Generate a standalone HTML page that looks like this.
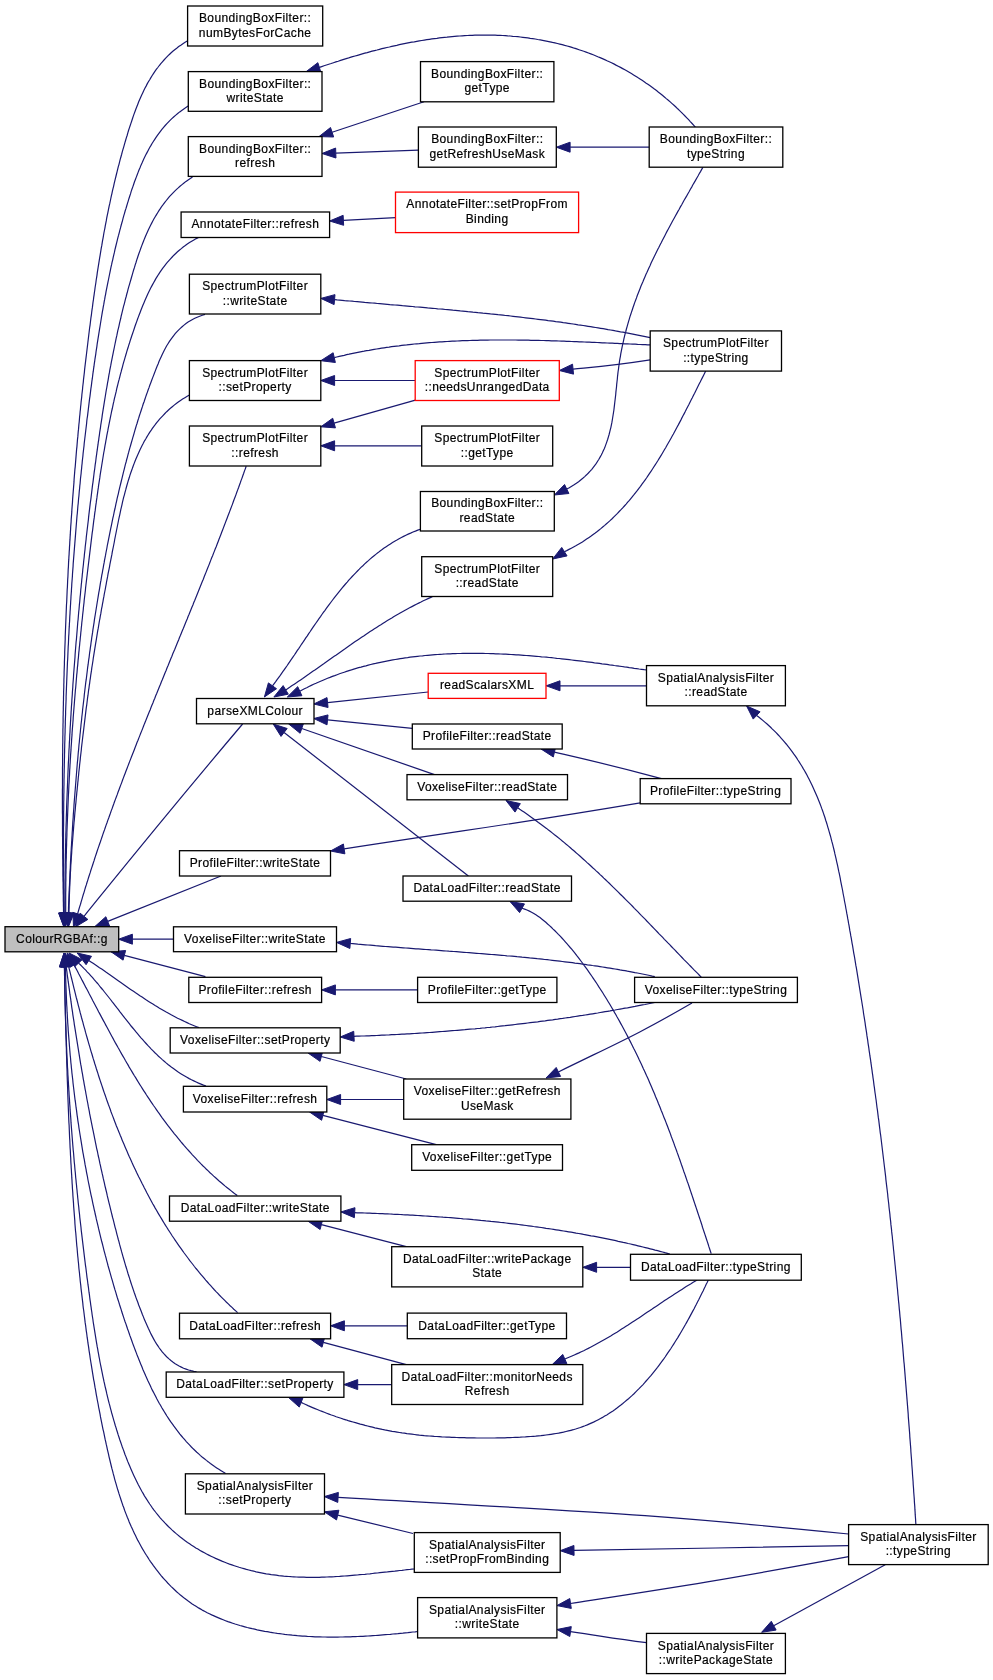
<!DOCTYPE html>
<html><head><meta charset="utf-8"><style>
html,body{margin:0;padding:0;background:#fff;}
svg{display:block;will-change:transform;}
text{font-family:"Liberation Sans",sans-serif;font-size:12px;letter-spacing:0.4px;text-anchor:middle;fill:#000;stroke:#000;stroke-width:0.2px;}
</style></head><body>
<svg width="993" height="1680" viewBox="0 0 993 1680">
<rect width="993" height="1680" fill="#fff"/>
<g fill="none" stroke="#191970" stroke-width="1.2">
<path d="M187.3,41.0 L185.1,42.3 L182.9,43.7 L180.8,45.2 L178.7,46.6 L176.7,48.2 L174.7,49.7 L172.8,51.3 L170.9,53.0 L169.1,54.7 L167.4,56.4 L165.7,58.2 L164.0,60.0 L162.4,61.8 L160.8,63.7 L159.3,65.5 L157.8,67.5 L156.3,69.4 L154.9,71.4 L153.6,73.4 L152.2,75.5 L150.9,77.6 L149.7,79.7 L148.4,81.8 L147.2,83.9 L146.1,86.1 L144.9,88.3 L143.8,90.5 L142.8,92.7 L141.7,95.0 L140.7,97.3 L139.7,99.5 L138.7,101.8 L137.8,104.2 L136.9,106.5 L136.0,108.8 L135.1,111.2 L134.2,113.6 L133.4,115.9 L132.6,118.3 L131.8,120.7 L131.0,123.1 L130.2,125.5 L129.4,127.9 L128.6,130.3 L127.9,132.7 L127.2,135.2 L126.4,137.6 L125.7,140.0 L125.0,142.4 L124.3,144.8 L123.6,147.3 L122.9,149.7 L122.2,152.1 L121.6,154.5 L120.9,157.0 L120.2,159.4 L119.6,161.8 L119.0,164.3 L118.3,166.7 L117.7,169.2 L117.1,171.6 L116.5,174.0 L115.9,176.5 L115.3,178.9 L114.7,181.4 L114.1,183.8 L113.6,186.3 L113.0,188.7 L112.4,191.2 L111.9,193.6 L111.3,196.1 L110.8,198.5 L110.3,201.0 L109.8,203.4 L109.2,205.9 L108.7,208.4 L108.2,210.8 L107.7,213.3 L107.2,215.7 L106.7,218.2 L106.3,220.7 L105.8,223.1 L105.3,225.6 L104.9,228.1 L104.4,230.5 L103.9,233.0 L103.5,235.5 L103.1,237.9 L102.6,240.4 L102.2,242.9 L101.8,245.4 L101.3,247.8 L100.9,250.3 L100.5,252.8 L100.1,255.3 L99.7,257.7 L99.3,260.2 L98.9,262.7 L98.5,265.2 L98.1,267.6 L97.7,270.1 L97.3,272.6 L97.0,275.1 L96.6,277.6 L96.2,280.0 L95.9,282.5 L95.5,285.0 L95.1,287.5 L94.8,290.0 L94.4,292.5 L94.1,294.9 L93.7,297.4 L93.4,299.9 L93.0,302.4 L92.7,304.9 L92.4,307.4 L92.0,309.9 L91.7,312.3 L91.4,314.8 L91.0,317.3 L90.7,319.8 L90.4,322.3 L90.1,324.8 L89.7,327.3 L89.4,329.8 L89.1,332.2 L88.8,334.7 L88.5,337.2 L88.2,339.7 L87.9,342.2 L87.6,344.7 L87.3,347.2 L87.0,349.7 L86.7,352.2 L86.4,354.7 L86.1,357.1 L85.8,359.6 L85.5,362.1 L85.2,364.6 L84.9,367.1 L84.6,369.6 L84.4,372.1 L84.1,374.6 L83.8,377.1 L83.5,379.6 L83.3,382.1 L83.0,384.5 L82.7,387.0 L82.5,389.5 L82.2,392.0 L81.9,394.5 L81.7,397.0 L81.4,399.5 L81.1,402.0 L80.9,404.5 L80.6,407.0 L80.4,409.5 L80.1,412.0 L79.9,414.5 L79.6,417.0 L79.4,419.5 L79.2,422.0 L78.9,424.5 L78.7,426.9 L78.5,429.4 L78.2,431.9 L78.0,434.4 L77.8,436.9 L77.5,439.4 L77.3,441.9 L77.1,444.4 L76.9,446.9 L76.6,449.4 L76.4,451.9 L76.2,454.4 L76.0,456.9 L75.8,459.4 L75.6,461.9 L75.4,464.4 L75.2,466.9 L74.9,469.4 L74.7,471.9 L74.5,474.4 L74.3,476.9 L74.1,479.4 L74.0,481.9 L73.8,484.4 L73.6,486.9 L73.4,489.4 L73.2,491.9 L73.0,494.4 L72.8,496.9 L72.6,499.4 L72.5,501.9 L72.3,504.4 L72.1,506.9 L71.9,509.4 L71.8,511.9 L71.6,514.4 L71.4,516.9 L71.2,519.4 L71.1,521.9 L70.9,524.4 L70.7,526.9 L70.6,529.4 L70.4,531.9 L70.3,534.4 L70.1,536.9 L70.0,539.4 L69.8,541.9 L69.7,544.4 L69.5,546.9 L69.4,549.4 L69.2,551.9 L69.1,554.4 L68.9,556.9 L68.8,559.4 L68.6,561.9 L68.5,564.4 L68.4,566.9 L68.2,569.4 L68.1,571.9 L68.0,574.4 L67.9,576.9 L67.7,579.5 L67.6,582.0 L67.5,584.5 L67.4,587.0 L67.2,589.5 L67.1,592.0 L67.0,594.5 L66.9,597.0 L66.8,599.5 L66.7,602.0 L66.5,604.5 L66.4,607.0 L66.3,609.5 L66.2,612.0 L66.1,614.5 L66.0,617.0 L65.9,619.5 L65.8,622.0 L65.7,624.5 L65.6,627.0 L65.5,629.5 L65.4,632.1 L65.3,634.6 L65.2,637.1 L65.2,639.6 L65.1,642.1 L65.0,644.6 L64.9,647.1 L64.8,649.6 L64.7,652.1 L64.7,654.6 L64.6,657.1 L64.5,659.6 L64.4,662.1 L64.4,664.6 L64.3,667.1 L64.2,669.6 L64.1,672.2 L64.1,674.7 L64.0,677.2 L63.9,679.7 L63.9,682.2 L63.8,684.7 L63.8,687.2 L63.7,689.7 L63.6,692.2 L63.6,694.7 L63.5,697.2 L63.5,699.7 L63.4,702.2 L63.4,704.7 L63.3,707.3 L63.3,709.8 L63.2,712.3 L63.2,714.8 L63.1,717.3 L63.1,719.8 L63.1,722.3 L63.0,724.8 L63.0,727.3 L62.9,729.8 L62.9,732.3 L62.9,734.8 L62.8,737.3 L62.8,739.9 L62.8,742.4 L62.7,744.9 L62.7,747.4 L62.7,749.9 L62.7,752.4 L62.6,754.9 L62.6,757.4 L62.6,759.9 L62.6,762.4 L62.6,764.9 L62.5,767.4 L62.5,769.9 L62.5,772.5 L62.5,775.0 L62.5,777.5 L62.5,780.0 L62.5,782.5 L62.5,785.0 L62.5,787.5 L62.4,790.0 L62.4,792.5 L62.4,795.0 L62.4,797.5 L62.4,800.0 L62.4,802.6 L62.4,805.1 L62.4,807.6 L62.4,810.1 L62.4,812.6 L62.5,815.1 L62.5,817.6 L62.5,820.1 L62.5,822.6 L62.5,825.1 L62.5,827.6 L62.5,830.1 L62.5,832.7 L62.5,835.2 L62.6,837.7 L62.6,840.2 L62.6,842.7 L62.6,845.2 L62.6,847.7 L62.7,850.2 L62.7,852.7 L62.7,855.2 L62.7,857.7 L62.8,860.2 L62.8,862.8 L62.8,865.3 L62.9,867.8 L62.9,870.3 L62.9,872.8 L62.9,875.3 L63.0,877.8 L63.0,880.3 L63.1,882.8 L63.1,885.3 L63.1,887.8 L63.2,890.3 L63.2,892.8 L63.3,895.4 L63.3,897.9 L63.3,900.4 L63.4,902.9 L63.4,905.4 L63.5,907.9 L63.5,910.4 L63.6,912.9"/>
<path d="M188.1,106.1 L185.9,107.5 L183.8,108.9 L181.7,110.4 L179.7,111.9 L177.7,113.5 L175.8,115.1 L173.9,116.7 L172.1,118.4 L170.3,120.1 L168.6,121.9 L166.9,123.7 L165.2,125.5 L163.6,127.3 L162.1,129.2 L160.6,131.1 L159.1,133.1 L157.6,135.1 L156.2,137.1 L154.9,139.1 L153.5,141.2 L152.2,143.3 L151.0,145.4 L149.7,147.5 L148.5,149.7 L147.4,151.9 L146.2,154.1 L145.1,156.3 L144.0,158.6 L143.0,160.8 L142.0,163.1 L140.9,165.4 L140.0,167.7 L139.0,170.0 L138.1,172.4 L137.2,174.7 L136.3,177.1 L135.4,179.5 L134.5,181.8 L133.7,184.2 L132.9,186.6 L132.0,189.0 L131.2,191.4 L130.5,193.9 L129.7,196.3 L128.9,198.7 L128.2,201.1 L127.4,203.6 L126.7,206.0 L126.0,208.4 L125.2,210.8 L124.5,213.3 L123.8,215.7 L123.1,218.2 L122.5,220.6 L121.8,223.0 L121.1,225.5 L120.5,227.9 L119.8,230.3 L119.2,232.8 L118.6,235.2 L117.9,237.7 L117.3,240.1 L116.7,242.6 L116.1,245.0 L115.5,247.5 L114.9,249.9 L114.4,252.4 L113.8,254.8 L113.2,257.3 L112.7,259.8 L112.1,262.2 L111.6,264.7 L111.0,267.1 L110.5,269.6 L110.0,272.1 L109.5,274.5 L109.0,277.0 L108.5,279.5 L108.0,281.9 L107.5,284.4 L107.0,286.9 L106.5,289.3 L106.0,291.8 L105.6,294.3 L105.1,296.7 L104.7,299.2 L104.2,301.7 L103.8,304.2 L103.3,306.6 L102.9,309.1 L102.4,311.6 L102.0,314.1 L101.6,316.5 L101.2,319.0 L100.8,321.5 L100.4,324.0 L100.0,326.5 L99.6,328.9 L99.2,331.4 L98.8,333.9 L98.4,336.4 L98.0,338.9 L97.6,341.4 L97.2,343.8 L96.9,346.3 L96.5,348.8 L96.1,351.3 L95.8,353.8 L95.4,356.3 L95.0,358.8 L94.7,361.2 L94.3,363.7 L94.0,366.2 L93.6,368.7 L93.3,371.2 L92.9,373.7 L92.6,376.2 L92.3,378.7 L91.9,381.2 L91.6,383.6 L91.3,386.1 L90.9,388.6 L90.6,391.1 L90.3,393.6 L90.0,396.1 L89.6,398.6 L89.3,401.1 L89.0,403.6 L88.7,406.1 L88.4,408.6 L88.1,411.1 L87.8,413.6 L87.5,416.1 L87.1,418.5 L86.8,421.0 L86.6,423.5 L86.3,426.0 L86.0,428.5 L85.7,431.0 L85.4,433.5 L85.1,436.0 L84.8,438.5 L84.5,441.0 L84.2,443.5 L84.0,446.0 L83.7,448.5 L83.4,451.0 L83.1,453.5 L82.9,456.0 L82.6,458.5 L82.3,461.0 L82.1,463.5 L81.8,466.0 L81.6,468.5 L81.3,471.0 L81.1,473.5 L80.8,476.0 L80.5,478.5 L80.3,481.0 L80.1,483.5 L79.8,486.0 L79.6,488.5 L79.3,491.0 L79.1,493.5 L78.9,496.0 L78.6,498.5 L78.4,501.0 L78.2,503.5 L77.9,506.0 L77.7,508.5 L77.5,511.0 L77.3,513.5 L77.0,516.0 L76.8,518.5 L76.6,521.0 L76.4,523.5 L76.2,526.0 L76.0,528.5 L75.8,531.0 L75.6,533.6 L75.4,536.1 L75.2,538.6 L75.0,541.1 L74.8,543.6 L74.6,546.1 L74.4,548.6 L74.2,551.1 L74.0,553.6 L73.8,556.1 L73.6,558.6 L73.4,561.1 L73.2,563.6 L73.1,566.1 L72.9,568.6 L72.7,571.1 L72.5,573.7 L72.4,576.2 L72.2,578.7 L72.0,581.2 L71.8,583.7 L71.7,586.2 L71.5,588.7 L71.4,591.2 L71.2,593.7 L71.0,596.2 L70.9,598.7 L70.7,601.3 L70.6,603.8 L70.4,606.3 L70.3,608.8 L70.1,611.3 L70.0,613.8 L69.8,616.3 L69.7,618.8 L69.6,621.3 L69.4,623.8 L69.3,626.4 L69.1,628.9 L69.0,631.4 L68.9,633.9 L68.7,636.4 L68.6,638.9 L68.5,641.4 L68.4,643.9 L68.2,646.4 L68.1,649.0 L68.0,651.5 L67.9,654.0 L67.8,656.5 L67.7,659.0 L67.5,661.5 L67.4,664.0 L67.3,666.5 L67.2,669.0 L67.1,671.6 L67.0,674.1 L66.9,676.6 L66.8,679.1 L66.7,681.6 L66.6,684.1 L66.5,686.6 L66.4,689.2 L66.3,691.7 L66.2,694.2 L66.1,696.7 L66.1,699.2 L66.0,701.7 L65.9,704.2 L65.8,706.7 L65.7,709.3 L65.6,711.8 L65.6,714.3 L65.5,716.8 L65.4,719.3 L65.3,721.8 L65.3,724.3 L65.2,726.9 L65.1,729.4 L65.1,731.9 L65.0,734.4 L64.9,736.9 L64.9,739.4 L64.8,741.9 L64.7,744.5 L64.7,747.0 L64.6,749.5 L64.6,752.0 L64.5,754.5 L64.5,757.0 L64.4,759.5 L64.4,762.1 L64.3,764.6 L64.3,767.1 L64.2,769.6 L64.2,772.1 L64.1,774.6 L64.1,777.1 L64.0,779.7 L64.0,782.2 L64.0,784.7 L63.9,787.2 L63.9,789.7 L63.9,792.2 L63.8,794.7 L63.8,797.3 L63.8,799.8 L63.7,802.3 L63.7,804.8 L63.7,807.3 L63.7,809.8 L63.6,812.3 L63.6,814.9 L63.6,817.4 L63.6,819.9 L63.6,822.4 L63.6,824.9 L63.5,827.4 L63.5,829.9 L63.5,832.5 L63.5,835.0 L63.5,837.5 L63.5,840.0 L63.5,842.5 L63.5,845.0 L63.5,847.5 L63.5,850.1 L63.5,852.6 L63.5,855.1 L63.5,857.6 L63.5,860.1 L63.5,862.6 L63.5,865.1 L63.5,867.7 L63.5,870.2 L63.5,872.7 L63.5,875.2 L63.5,877.7 L63.5,880.2 L63.6,882.7 L63.6,885.3 L63.6,887.8 L63.6,890.3 L63.6,892.8 L63.6,895.3 L63.7,897.8 L63.7,900.3 L63.7,902.8 L63.7,905.4 L63.7,907.9 L63.8,910.4 L63.8,912.9"/>
<path d="M192.5,177.0 L190.3,178.4 L188.1,179.9 L186.0,181.4 L184.0,183.0 L182.0,184.6 L180.0,186.2 L178.2,187.9 L176.3,189.6 L174.5,191.3 L172.8,193.1 L171.1,194.9 L169.4,196.7 L167.8,198.6 L166.3,200.5 L164.8,202.4 L163.3,204.4 L161.8,206.3 L160.5,208.4 L159.1,210.4 L157.8,212.5 L156.5,214.6 L155.2,216.7 L154.0,218.8 L152.8,221.0 L151.7,223.1 L150.6,225.3 L149.5,227.6 L148.4,229.8 L147.4,232.0 L146.4,234.3 L145.4,236.6 L144.4,238.9 L143.5,241.2 L142.6,243.5 L141.7,245.9 L140.8,248.2 L140.0,250.6 L139.1,253.0 L138.3,255.3 L137.5,257.7 L136.7,260.1 L136.0,262.5 L135.2,264.9 L134.5,267.4 L133.7,269.8 L133.0,272.2 L132.3,274.6 L131.6,277.0 L130.9,279.5 L130.2,281.9 L129.5,284.3 L128.8,286.7 L128.1,289.2 L127.5,291.6 L126.8,294.0 L126.2,296.5 L125.5,298.9 L124.9,301.4 L124.3,303.8 L123.6,306.2 L123.0,308.7 L122.4,311.1 L121.8,313.6 L121.2,316.0 L120.7,318.5 L120.1,320.9 L119.5,323.4 L119.0,325.8 L118.4,328.3 L117.8,330.7 L117.3,333.2 L116.8,335.7 L116.2,338.1 L115.7,340.6 L115.2,343.0 L114.7,345.5 L114.2,348.0 L113.7,350.4 L113.2,352.9 L112.7,355.4 L112.2,357.8 L111.7,360.3 L111.2,362.8 L110.8,365.2 L110.3,367.7 L109.8,370.2 L109.4,372.7 L108.9,375.1 L108.5,377.6 L108.1,380.1 L107.6,382.6 L107.2,385.1 L106.8,387.5 L106.3,390.0 L105.9,392.5 L105.5,395.0 L105.1,397.5 L104.7,399.9 L104.3,402.4 L103.9,404.9 L103.5,407.4 L103.1,409.9 L102.7,412.4 L102.3,414.9 L102.0,417.3 L101.6,419.8 L101.2,422.3 L100.8,424.8 L100.5,427.3 L100.1,429.8 L99.7,432.3 L99.4,434.8 L99.0,437.3 L98.7,439.8 L98.3,442.2 L98.0,444.7 L97.6,447.2 L97.3,449.7 L96.9,452.2 L96.6,454.7 L96.2,457.2 L95.9,459.7 L95.6,462.2 L95.2,464.7 L94.9,467.2 L94.6,469.7 L94.2,472.2 L93.9,474.7 L93.6,477.1 L93.3,479.6 L93.0,482.1 L92.6,484.6 L92.3,487.1 L92.0,489.6 L91.7,492.1 L91.4,494.6 L91.1,497.1 L90.8,499.6 L90.4,502.1 L90.1,504.6 L89.8,507.1 L89.5,509.6 L89.2,512.1 L88.9,514.6 L88.6,517.1 L88.4,519.6 L88.1,522.0 L87.8,524.5 L87.5,527.0 L87.2,529.5 L86.9,532.0 L86.6,534.5 L86.3,537.0 L86.1,539.5 L85.8,542.0 L85.5,544.5 L85.2,547.0 L85.0,549.5 L84.7,552.0 L84.4,554.5 L84.2,557.0 L83.9,559.5 L83.6,562.0 L83.4,564.5 L83.1,567.0 L82.8,569.5 L82.6,572.0 L82.3,574.5 L82.1,577.0 L81.8,579.5 L81.6,582.0 L81.3,584.5 L81.1,587.0 L80.8,589.5 L80.6,592.0 L80.4,594.5 L80.1,597.0 L79.9,599.5 L79.7,602.0 L79.4,604.5 L79.2,607.0 L79.0,609.5 L78.7,612.0 L78.5,614.5 L78.3,617.0 L78.1,619.5 L77.8,622.0 L77.6,624.5 L77.4,627.0 L77.2,629.5 L77.0,632.0 L76.8,634.5 L76.6,637.0 L76.4,639.5 L76.1,642.0 L75.9,644.5 L75.7,647.0 L75.5,649.5 L75.3,652.0 L75.1,654.5 L75.0,657.0 L74.8,659.5 L74.6,662.0 L74.4,664.5 L74.2,667.0 L74.0,669.5 L73.8,672.0 L73.6,674.5 L73.5,677.0 L73.3,679.5 L73.1,682.0 L72.9,684.5 L72.8,687.0 L72.6,689.5 L72.4,692.0 L72.3,694.5 L72.1,697.0 L71.9,699.5 L71.8,702.0 L71.6,704.5 L71.4,707.0 L71.3,709.5 L71.1,712.0 L71.0,714.5 L70.8,717.0 L70.7,719.6 L70.5,722.1 L70.4,724.6 L70.2,727.1 L70.1,729.6 L70.0,732.1 L69.8,734.6 L69.7,737.1 L69.6,739.6 L69.4,742.1 L69.3,744.6 L69.2,747.1 L69.0,749.6 L68.9,752.1 L68.8,754.6 L68.7,757.1 L68.6,759.7 L68.4,762.2 L68.3,764.7 L68.2,767.2 L68.1,769.7 L68.0,772.2 L67.9,774.7 L67.8,777.2 L67.7,779.7 L67.6,782.2 L67.5,784.7 L67.4,787.2 L67.3,789.8 L67.2,792.3 L67.1,794.8 L67.0,797.3 L66.9,799.8 L66.8,802.3 L66.7,804.8 L66.6,807.3 L66.6,809.8 L66.5,812.3 L66.4,814.9 L66.3,817.4 L66.3,819.9 L66.2,822.4 L66.1,824.9 L66.0,827.4 L66.0,829.9 L65.9,832.4 L65.8,834.9 L65.8,837.5 L65.7,840.0 L65.7,842.5 L65.6,845.0 L65.6,847.5 L65.5,850.0 L65.5,852.5 L65.4,855.1 L65.4,857.6 L65.3,860.1 L65.3,862.6 L65.2,865.1 L65.2,867.6 L65.2,870.1 L65.1,872.6 L65.1,875.2 L65.1,877.7 L65.0,880.2 L65.0,882.7 L65.0,885.2 L65.0,887.7 L64.9,890.3 L64.9,892.8 L64.9,895.3 L64.9,897.8 L64.9,900.3 L64.8,902.8 L64.8,905.4 L64.8,907.9 L64.8,910.4 L64.8,912.9"/>
<path d="M198.6,237.4 L196.2,238.6 L193.9,239.9 L191.7,241.2 L189.5,242.6 L187.3,244.0 L185.3,245.5 L183.2,247.0 L181.3,248.6 L179.3,250.2 L177.5,251.8 L175.7,253.5 L173.9,255.2 L172.2,257.0 L170.5,258.8 L168.9,260.6 L167.3,262.4 L165.7,264.3 L164.2,266.3 L162.8,268.2 L161.4,270.2 L160.0,272.2 L158.6,274.3 L157.3,276.4 L156.0,278.4 L154.8,280.6 L153.6,282.7 L152.4,284.9 L151.2,287.1 L150.1,289.3 L149.0,291.5 L147.9,293.7 L146.9,296.0 L145.9,298.3 L144.9,300.6 L143.9,302.9 L142.9,305.2 L142.0,307.5 L141.1,309.8 L140.2,312.2 L139.3,314.5 L138.4,316.9 L137.5,319.2 L136.7,321.6 L135.8,324.0 L135.0,326.3 L134.2,328.7 L133.4,331.1 L132.6,333.5 L131.8,335.8 L131.0,338.2 L130.2,340.6 L129.5,343.0 L128.7,345.4 L128.0,347.8 L127.2,350.2 L126.5,352.6 L125.8,355.0 L125.1,357.4 L124.4,359.8 L123.7,362.2 L123.0,364.6 L122.4,367.1 L121.7,369.5 L121.1,371.9 L120.4,374.3 L119.8,376.8 L119.2,379.2 L118.5,381.6 L117.9,384.1 L117.3,386.5 L116.7,388.9 L116.2,391.4 L115.6,393.8 L115.0,396.3 L114.4,398.7 L113.9,401.2 L113.3,403.6 L112.8,406.1 L112.3,408.5 L111.7,411.0 L111.2,413.5 L110.7,415.9 L110.2,418.4 L109.7,420.8 L109.2,423.3 L108.7,425.8 L108.2,428.3 L107.8,430.7 L107.3,433.2 L106.8,435.7 L106.4,438.1 L105.9,440.6 L105.5,443.1 L105.0,445.6 L104.6,448.1 L104.2,450.5 L103.7,453.0 L103.3,455.5 L102.9,458.0 L102.5,460.5 L102.1,463.0 L101.7,465.5 L101.3,468.0 L100.9,470.4 L100.5,472.9 L100.1,475.4 L99.8,477.9 L99.4,480.4 L99.0,482.9 L98.6,485.4 L98.3,487.9 L97.9,490.4 L97.6,492.9 L97.2,495.4 L96.9,497.9 L96.5,500.4 L96.2,502.9 L95.8,505.4 L95.5,507.9 L95.2,510.4 L94.8,512.9 L94.5,515.4 L94.2,517.9 L93.8,520.4 L93.5,522.9 L93.2,525.4 L92.9,527.9 L92.6,530.4 L92.2,532.9 L91.9,535.4 L91.6,537.9 L91.3,540.4 L91.0,542.9 L90.7,545.4 L90.4,547.9 L90.1,550.4 L89.8,552.9 L89.5,555.4 L89.2,557.9 L88.9,560.4 L88.6,562.8 L88.3,565.3 L88.0,567.8 L87.7,570.3 L87.4,572.8 L87.1,575.3 L86.8,577.8 L86.5,580.3 L86.2,582.8 L85.9,585.3 L85.6,587.8 L85.4,590.3 L85.1,592.8 L84.8,595.3 L84.5,597.8 L84.2,600.3 L84.0,602.8 L83.7,605.3 L83.4,607.8 L83.2,610.3 L82.9,612.7 L82.6,615.2 L82.4,617.7 L82.1,620.2 L81.8,622.7 L81.6,625.2 L81.3,627.7 L81.1,630.2 L80.8,632.7 L80.6,635.2 L80.3,637.7 L80.1,640.2 L79.8,642.7 L79.6,645.2 L79.3,647.6 L79.1,650.1 L78.8,652.6 L78.6,655.1 L78.4,657.6 L78.1,660.1 L77.9,662.6 L77.7,665.1 L77.4,667.6 L77.2,670.1 L77.0,672.6 L76.7,675.1 L76.5,677.6 L76.3,680.0 L76.1,682.5 L75.9,685.0 L75.7,687.5 L75.4,690.0 L75.2,692.5 L75.0,695.0 L74.8,697.5 L74.6,700.0 L74.4,702.5 L74.2,705.0 L74.0,707.5 L73.8,710.0 L73.6,712.5 L73.4,715.0 L73.2,717.4 L73.1,719.9 L72.9,722.4 L72.7,724.9 L72.5,727.4 L72.3,729.9 L72.1,732.4 L72.0,734.9 L71.8,737.4 L71.6,739.9 L71.5,742.4 L71.3,744.9 L71.1,747.4 L71.0,749.9 L70.8,752.4 L70.6,754.9 L70.5,757.4 L70.3,759.9 L70.2,762.4 L70.0,764.9 L69.9,767.4 L69.7,769.9 L69.6,772.4 L69.5,774.9 L69.3,777.4 L69.2,779.9 L69.1,782.4 L68.9,784.9 L68.8,787.4 L68.7,789.9 L68.6,792.4 L68.4,794.9 L68.3,797.4 L68.2,799.9 L68.1,802.4 L68.0,804.9 L67.9,807.4 L67.8,809.9 L67.7,812.4 L67.6,814.9 L67.5,817.4 L67.4,819.9 L67.3,822.4 L67.2,824.9 L67.1,827.4 L67.0,829.9 L66.9,832.4 L66.9,834.9 L66.8,837.4 L66.7,840.0 L66.6,842.5 L66.6,845.0 L66.5,847.5 L66.4,850.0 L66.4,852.5 L66.3,855.0 L66.3,857.5 L66.2,860.0 L66.1,862.5 L66.1,865.1 L66.1,867.6 L66.0,870.1 L66.0,872.6 L65.9,875.1 L65.9,877.6 L65.9,880.1 L65.8,882.7 L65.8,885.2 L65.8,887.7 L65.8,890.2 L65.7,892.7 L65.7,895.3 L65.7,897.8 L65.7,900.3 L65.7,902.8 L65.7,905.3 L65.7,907.9 L65.7,910.4 L65.7,912.9"/>
<path d="M205.0,314.4 L202.3,315.2 L199.7,316.2 L197.2,317.2 L194.8,318.3 L192.5,319.5 L190.3,320.8 L188.1,322.1 L186.0,323.6 L184.0,325.1 L182.1,326.7 L180.3,328.4 L178.5,330.1 L176.8,331.9 L175.2,333.7 L173.7,335.6 L172.2,337.6 L170.7,339.6 L169.3,341.6 L168.0,343.7 L166.7,345.8 L165.5,348.0 L164.3,350.2 L163.2,352.4 L162.1,354.7 L161.1,356.9 L160.0,359.2 L159.0,361.5 L158.1,363.9 L157.1,366.2 L156.2,368.5 L155.3,370.9 L154.4,373.2 L153.5,375.6 L152.6,377.9 L151.7,380.3 L150.8,382.7 L149.9,385.0 L149.1,387.4 L148.2,389.8 L147.4,392.1 L146.5,394.5 L145.7,396.9 L144.9,399.3 L144.1,401.7 L143.2,404.0 L142.5,406.4 L141.7,408.8 L140.9,411.2 L140.1,413.6 L139.3,416.0 L138.6,418.4 L137.8,420.8 L137.1,423.2 L136.3,425.6 L135.6,428.0 L134.9,430.4 L134.2,432.9 L133.5,435.3 L132.8,437.7 L132.1,440.1 L131.4,442.5 L130.7,445.0 L130.0,447.4 L129.3,449.8 L128.7,452.2 L128.0,454.7 L127.4,457.1 L126.7,459.5 L126.1,462.0 L125.4,464.4 L124.8,466.8 L124.2,469.3 L123.6,471.7 L123.0,474.2 L122.4,476.6 L121.8,479.1 L121.2,481.5 L120.6,484.0 L120.0,486.4 L119.4,488.9 L118.8,491.3 L118.3,493.8 L117.7,496.2 L117.1,498.7 L116.6,501.1 L116.0,503.6 L115.5,506.1 L115.0,508.5 L114.4,511.0 L113.9,513.5 L113.4,515.9 L112.8,518.4 L112.3,520.8 L111.8,523.3 L111.3,525.8 L110.8,528.2 L110.3,530.7 L109.8,533.2 L109.3,535.7 L108.8,538.1 L108.3,540.6 L107.8,543.1 L107.3,545.5 L106.9,548.0 L106.4,550.5 L105.9,553.0 L105.5,555.4 L105.0,557.9 L104.5,560.4 L104.1,562.9 L103.6,565.3 L103.2,567.8 L102.7,570.3 L102.3,572.8 L101.8,575.2 L101.4,577.7 L101.0,580.2 L100.5,582.7 L100.1,585.2 L99.7,587.6 L99.3,590.1 L98.8,592.6 L98.4,595.1 L98.0,597.6 L97.6,600.0 L97.2,602.5 L96.8,605.0 L96.4,607.5 L96.0,610.0 L95.6,612.5 L95.2,615.0 L94.8,617.4 L94.4,619.9 L94.1,622.4 L93.7,624.9 L93.3,627.4 L92.9,629.9 L92.6,632.4 L92.2,634.8 L91.8,637.3 L91.5,639.8 L91.1,642.3 L90.8,644.8 L90.4,647.3 L90.1,649.8 L89.7,652.3 L89.4,654.8 L89.1,657.3 L88.7,659.8 L88.4,662.2 L88.1,664.7 L87.7,667.2 L87.4,669.7 L87.1,672.2 L86.8,674.7 L86.5,677.2 L86.2,679.7 L85.8,682.2 L85.5,684.7 L85.2,687.2 L84.9,689.7 L84.6,692.2 L84.3,694.7 L84.1,697.2 L83.8,699.7 L83.5,702.2 L83.2,704.7 L82.9,707.2 L82.6,709.7 L82.4,712.2 L82.1,714.7 L81.8,717.2 L81.6,719.7 L81.3,722.2 L81.0,724.7 L80.8,727.2 L80.5,729.7 L80.3,732.2 L80.0,734.7 L79.8,737.2 L79.5,739.7 L79.3,742.2 L79.0,744.7 L78.8,747.2 L78.6,749.7 L78.3,752.2 L78.1,754.7 L77.9,757.2 L77.7,759.7 L77.4,762.2 L77.2,764.7 L77.0,767.2 L76.8,769.8 L76.6,772.3 L76.4,774.8 L76.2,777.3 L76.0,779.8 L75.8,782.3 L75.6,784.8 L75.4,787.3 L75.2,789.8 L75.0,792.3 L74.8,794.8 L74.6,797.3 L74.4,799.8 L74.2,802.4 L74.0,804.9 L73.9,807.4 L73.7,809.9 L73.5,812.4 L73.3,814.9 L73.2,817.4 L73.0,819.9 L72.8,822.4 L72.7,824.9 L72.5,827.5 L72.4,830.0 L72.2,832.5 L72.1,835.0 L71.9,837.5 L71.8,840.0 L71.6,842.5 L71.5,845.0 L71.3,847.5 L71.2,850.1 L71.0,852.6 L70.9,855.1 L70.8,857.6 L70.6,860.1 L70.5,862.6 L70.4,865.1 L70.3,867.7 L70.1,870.2 L70.0,872.7 L69.9,875.2 L69.8,877.7 L69.7,880.2 L69.6,882.7 L69.5,885.2 L69.3,887.8 L69.2,890.3 L69.1,892.8 L69.0,895.3 L68.9,897.8 L68.8,900.3 L68.7,902.8 L68.6,905.4 L68.5,907.9 L68.5,910.4 L68.4,912.9"/>
<path d="M189.5,395.0 L187.2,396.3 L184.9,397.7 L182.6,399.1 L180.5,400.5 L178.3,402.0 L176.3,403.5 L174.2,405.1 L172.3,406.7 L170.4,408.3 L168.5,410.0 L166.7,411.7 L164.9,413.5 L163.2,415.3 L161.5,417.1 L159.8,418.9 L158.2,420.8 L156.7,422.7 L155.2,424.7 L153.7,426.6 L152.2,428.6 L150.9,430.7 L149.5,432.7 L148.2,434.8 L146.9,436.9 L145.7,439.0 L144.4,441.1 L143.3,443.3 L142.1,445.5 L141.0,447.7 L139.9,449.9 L138.9,452.2 L137.9,454.4 L136.9,456.7 L135.9,459.0 L135.0,461.3 L134.1,463.6 L133.2,466.0 L132.4,468.3 L131.5,470.7 L130.7,473.0 L129.9,475.4 L129.2,477.8 L128.4,480.2 L127.7,482.6 L127.0,485.0 L126.3,487.5 L125.7,489.9 L125.0,492.3 L124.4,494.8 L123.7,497.2 L123.1,499.7 L122.5,502.2 L122.0,504.6 L121.4,507.1 L120.8,509.6 L120.3,512.1 L119.8,514.6 L119.2,517.1 L118.7,519.5 L118.2,522.0 L117.7,524.5 L117.2,527.0 L116.7,529.5 L116.2,532.0 L115.7,534.5 L115.2,537.0 L114.7,539.5 L114.3,542.0 L113.8,544.5 L113.3,547.0 L112.8,549.4 L112.3,551.9 L111.9,554.4 L111.4,556.9 L110.9,559.4 L110.4,561.9 L109.9,564.3 L109.5,566.8 L109.0,569.3 L108.5,571.7 L108.0,574.2 L107.6,576.7 L107.1,579.2 L106.6,581.6 L106.2,584.1 L105.7,586.6 L105.3,589.0 L104.8,591.5 L104.3,594.0 L103.9,596.4 L103.4,598.9 L103.0,601.3 L102.5,603.8 L102.1,606.3 L101.6,608.7 L101.2,611.2 L100.8,613.7 L100.3,616.1 L99.9,618.6 L99.4,621.0 L99.0,623.5 L98.6,626.0 L98.2,628.4 L97.7,630.9 L97.3,633.4 L96.9,635.8 L96.5,638.3 L96.1,640.8 L95.7,643.2 L95.3,645.7 L94.9,648.2 L94.5,650.6 L94.1,653.1 L93.7,655.6 L93.3,658.0 L93.0,660.5 L92.6,663.0 L92.2,665.5 L91.8,667.9 L91.5,670.4 L91.1,672.9 L90.7,675.4 L90.4,677.8 L90.0,680.3 L89.7,682.8 L89.3,685.3 L89.0,687.8 L88.6,690.2 L88.3,692.7 L88.0,695.2 L87.6,697.7 L87.3,700.2 L87.0,702.7 L86.7,705.2 L86.3,707.6 L86.0,710.1 L85.7,712.6 L85.4,715.1 L85.1,717.6 L84.8,720.1 L84.5,722.6 L84.2,725.1 L83.9,727.6 L83.6,730.1 L83.3,732.6 L83.0,735.0 L82.7,737.5 L82.4,740.0 L82.1,742.5 L81.8,745.0 L81.5,747.5 L81.3,750.0 L81.0,752.5 L80.7,755.0 L80.4,757.5 L80.2,760.0 L79.9,762.5 L79.6,765.0 L79.4,767.5 L79.1,770.0 L78.8,772.5 L78.6,775.0 L78.3,777.5 L78.1,780.1 L77.8,782.6 L77.6,785.1 L77.3,787.6 L77.1,790.1 L76.8,792.6 L76.6,795.1 L76.3,797.6 L76.1,800.1 L75.9,802.6 L75.6,805.1 L75.4,807.6 L75.2,810.1 L74.9,812.6 L74.7,815.1 L74.5,817.6 L74.3,820.1 L74.0,822.6 L73.8,825.1 L73.6,827.7 L73.4,830.2 L73.2,832.7 L73.0,835.2 L72.8,837.7 L72.6,840.2 L72.4,842.7 L72.2,845.2 L72.0,847.7 L71.8,850.2 L71.7,852.7 L71.5,855.2 L71.3,857.7 L71.2,860.2 L71.0,862.7 L70.8,865.3 L70.7,867.8 L70.6,870.3 L70.4,872.8 L70.3,875.3 L70.2,877.8 L70.0,880.3 L69.9,882.8 L69.8,885.3 L69.7,887.8 L69.6,890.3 L69.5,892.8 L69.4,895.3 L69.3,897.9 L69.3,900.4 L69.2,902.9 L69.1,905.4 L69.1,907.9 L69.0,910.4 L69.0,912.9"/>
<path d="M246.2,466.2 L245.4,468.6 L244.5,470.9 L243.7,473.3 L242.8,475.7 L242.0,478.1 L241.1,480.4 L240.3,482.8 L239.4,485.2 L238.6,487.5 L237.7,489.9 L236.8,492.3 L236.0,494.6 L235.1,497.0 L234.2,499.3 L233.3,501.7 L232.5,504.1 L231.6,506.4 L230.7,508.8 L229.8,511.1 L228.9,513.5 L228.0,515.8 L227.1,518.2 L226.2,520.5 L225.3,522.9 L224.4,525.3 L223.5,527.6 L222.6,530.0 L221.7,532.3 L220.8,534.7 L219.9,537.0 L219.0,539.3 L218.1,541.7 L217.2,544.0 L216.3,546.4 L215.3,548.7 L214.4,551.1 L213.5,553.4 L212.6,555.8 L211.6,558.1 L210.7,560.4 L209.8,562.8 L208.9,565.1 L207.9,567.5 L207.0,569.8 L206.1,572.1 L205.1,574.5 L204.2,576.8 L203.3,579.2 L202.3,581.5 L201.4,583.8 L200.4,586.2 L199.5,588.5 L198.5,590.9 L197.6,593.2 L196.7,595.5 L195.7,597.9 L194.8,600.2 L193.8,602.5 L192.9,604.9 L191.9,607.2 L191.0,609.5 L190.0,611.9 L189.1,614.2 L188.1,616.5 L187.2,618.9 L186.2,621.2 L185.3,623.5 L184.3,625.9 L183.4,628.2 L182.4,630.5 L181.4,632.9 L180.5,635.2 L179.5,637.5 L178.6,639.9 L177.6,642.2 L176.7,644.5 L175.7,646.9 L174.8,649.2 L173.8,651.5 L172.8,653.8 L171.9,656.2 L170.9,658.5 L170.0,660.8 L169.0,663.2 L168.1,665.5 L167.1,667.8 L166.2,670.2 L165.2,672.5 L164.3,674.8 L163.3,677.2 L162.4,679.5 L161.4,681.8 L160.5,684.2 L159.5,686.5 L158.6,688.8 L157.6,691.2 L156.7,693.5 L155.7,695.8 L154.8,698.2 L153.8,700.5 L152.9,702.9 L151.9,705.2 L151.0,707.5 L150.1,709.9 L149.1,712.2 L148.2,714.5 L147.2,716.9 L146.3,719.2 L145.4,721.6 L144.4,723.9 L143.5,726.2 L142.6,728.6 L141.7,730.9 L140.7,733.3 L139.8,735.6 L138.9,737.9 L138.0,740.3 L137.0,742.6 L136.1,745.0 L135.2,747.3 L134.3,749.7 L133.4,752.0 L132.4,754.4 L131.5,756.7 L130.6,759.1 L129.7,761.4 L128.8,763.8 L127.9,766.1 L127.0,768.5 L126.1,770.8 L125.2,773.2 L124.3,775.5 L123.4,777.9 L122.5,780.2 L121.7,782.6 L120.8,784.9 L119.9,787.3 L119.0,789.7 L118.1,792.0 L117.3,794.4 L116.4,796.7 L115.5,799.1 L114.6,801.5 L113.8,803.8 L112.9,806.2 L112.1,808.6 L111.2,810.9 L110.4,813.3 L109.5,815.7 L108.7,818.0 L107.8,820.4 L107.0,822.8 L106.1,825.1 L105.3,827.5 L104.5,829.9 L103.6,832.3 L102.8,834.6 L102.0,837.0 L101.2,839.4 L100.4,841.8 L99.5,844.2 L98.7,846.6 L97.9,848.9 L97.1,851.3 L96.3,853.7 L95.5,856.1 L94.7,858.5 L94.0,860.9 L93.2,863.3 L92.4,865.7 L91.6,868.1 L90.8,870.5 L90.1,872.9 L89.3,875.3 L88.5,877.7 L87.8,880.1 L87.0,882.5 L86.3,884.9 L85.5,887.3 L84.8,889.7 L84.1,892.1 L83.3,894.5 L82.6,896.9 L81.9,899.3 L81.2,901.7 L80.5,904.2 L79.7,906.6 L79.0,909.0 L78.3,911.4 L77.6,913.8"/>
<path d="M242.60,724.00 C166.68,813.78 145.20,840.75 83.99,916.28"/>
<path d="M221.00,876.00 L107.71,921.37"/>
<path d="M173.50,939.20 L132.40,939.20"/>
<path d="M205.40,976.60 L124.35,955.31"/>
<path d="M199.0,1027.6 L196.6,1026.7 L194.1,1025.7 L191.7,1024.7 L189.3,1023.7 L187.0,1022.6 L184.6,1021.5 L182.3,1020.4 L179.9,1019.3 L177.6,1018.2 L175.3,1017.0 L173.0,1015.8 L170.7,1014.6 L168.5,1013.3 L166.2,1012.1 L164.0,1010.8 L161.8,1009.5 L159.5,1008.2 L157.3,1006.8 L155.1,1005.5 L152.9,1004.1 L150.7,1002.7 L148.6,1001.4 L146.4,1000.0 L144.2,998.5 L142.1,997.1 L139.9,995.7 L137.8,994.2 L135.6,992.8 L133.5,991.3 L131.4,989.9 L129.2,988.4 L127.1,986.9 L125.0,985.4 L122.9,983.9 L120.8,982.5 L118.6,981.0 L116.5,979.5 L114.4,978.0 L112.3,976.5 L110.2,975.0 L108.0,973.5 L105.9,972.1 L103.8,970.6 L101.7,969.1 L99.5,967.7 L97.4,966.2 L95.3,964.8 L93.1,963.3 L91.0,961.9 L88.8,960.5"/>
<path d="M206.0,1086.0 L203.5,1085.1 L201.0,1084.1 L198.6,1083.1 L196.2,1082.0 L193.8,1080.9 L191.5,1079.8 L189.2,1078.6 L186.9,1077.3 L184.7,1076.0 L182.5,1074.7 L180.4,1073.4 L178.2,1072.0 L176.1,1070.5 L174.1,1069.1 L172.0,1067.6 L170.0,1066.0 L168.0,1064.5 L166.1,1062.9 L164.2,1061.2 L162.3,1059.6 L160.4,1057.9 L158.5,1056.2 L156.7,1054.4 L154.9,1052.7 L153.1,1050.9 L151.3,1049.1 L149.5,1047.2 L147.8,1045.4 L146.1,1043.5 L144.4,1041.6 L142.7,1039.7 L141.0,1037.8 L139.3,1035.8 L137.7,1033.9 L136.0,1031.9 L134.4,1029.9 L132.8,1028.0 L131.1,1026.0 L129.5,1023.9 L127.9,1021.9 L126.3,1019.9 L124.7,1017.9 L123.1,1015.8 L121.6,1013.8 L120.0,1011.8 L118.4,1009.7 L116.8,1007.7 L115.2,1005.6 L113.7,1003.6 L112.1,1001.6 L110.5,999.5 L108.9,997.5 L107.3,995.5 L105.7,993.5 L104.1,991.5 L102.5,989.5 L100.8,987.5 L99.2,985.5 L97.6,983.5 L95.9,981.6 L94.2,979.7 L92.6,977.7 L90.9,975.8 L89.2,973.9 L87.4,972.1 L85.7,970.2 L83.9,968.4 L82.2,966.6 L80.4,964.8 L78.5,963.1"/>
<path d="M237.3,1195.6 L235.2,1194.1 L233.2,1192.5 L231.2,1190.9 L229.2,1189.3 L227.2,1187.7 L225.2,1186.1 L223.3,1184.5 L221.3,1182.8 L219.4,1181.2 L217.5,1179.5 L215.6,1177.8 L213.7,1176.1 L211.9,1174.4 L210.0,1172.7 L208.2,1170.9 L206.4,1169.2 L204.6,1167.4 L202.8,1165.7 L201.0,1163.9 L199.3,1162.1 L197.5,1160.3 L195.8,1158.4 L194.1,1156.6 L192.4,1154.8 L190.7,1152.9 L189.0,1151.0 L187.3,1149.2 L185.7,1147.3 L184.0,1145.4 L182.4,1143.5 L180.8,1141.6 L179.2,1139.6 L177.6,1137.7 L176.0,1135.7 L174.4,1133.8 L172.9,1131.8 L171.3,1129.8 L169.8,1127.9 L168.2,1125.9 L166.7,1123.9 L165.2,1121.8 L163.7,1119.8 L162.2,1117.8 L160.8,1115.8 L159.3,1113.7 L157.8,1111.7 L156.4,1109.6 L155.0,1107.5 L153.5,1105.5 L152.1,1103.4 L150.7,1101.3 L149.3,1099.2 L147.9,1097.1 L146.5,1095.0 L145.2,1092.9 L143.8,1090.8 L142.4,1088.6 L141.1,1086.5 L139.7,1084.4 L138.4,1082.2 L137.1,1080.1 L135.8,1077.9 L134.4,1075.8 L133.1,1073.6 L131.8,1071.4 L130.5,1069.2 L129.2,1067.1 L128.0,1064.9 L126.7,1062.7 L125.4,1060.5 L124.2,1058.3 L122.9,1056.1 L121.6,1053.9 L120.4,1051.7 L119.2,1049.5 L117.9,1047.3 L116.7,1045.1 L115.4,1042.9 L114.2,1040.7 L113.0,1038.4 L111.8,1036.2 L110.6,1034.0 L109.4,1031.8 L108.2,1029.5 L107.0,1027.3 L105.8,1025.1 L104.6,1022.8 L103.4,1020.6 L102.2,1018.4 L101.0,1016.1 L99.8,1013.9 L98.6,1011.7 L97.5,1009.4 L96.3,1007.2 L95.1,1005.0 L93.9,1002.7 L92.7,1000.5 L91.6,998.3 L90.4,996.0 L89.2,993.8 L88.1,991.6 L86.9,989.3 L85.7,987.1 L84.6,984.9 L83.4,982.6 L82.2,980.4 L81.1,978.2 L79.9,976.0 L78.7,973.8 L77.6,971.6 L76.4,969.3 L75.2,967.1 L74.0,964.9"/>
<path d="M237.6,1312.6 L235.7,1310.9 L233.8,1309.2 L232.0,1307.4 L230.1,1305.7 L228.3,1303.9 L226.5,1302.2 L224.7,1300.4 L222.9,1298.6 L221.1,1296.8 L219.3,1295.0 L217.6,1293.1 L215.8,1291.3 L214.1,1289.5 L212.4,1287.6 L210.7,1285.7 L209.0,1283.9 L207.4,1282.0 L205.7,1280.1 L204.1,1278.2 L202.4,1276.2 L200.8,1274.3 L199.2,1272.4 L197.6,1270.4 L196.0,1268.5 L194.4,1266.5 L192.9,1264.5 L191.3,1262.5 L189.8,1260.6 L188.3,1258.5 L186.8,1256.5 L185.3,1254.5 L183.8,1252.5 L182.3,1250.4 L180.9,1248.4 L179.4,1246.3 L178.0,1244.3 L176.5,1242.2 L175.1,1240.1 L173.7,1238.0 L172.3,1236.0 L170.9,1233.8 L169.6,1231.7 L168.2,1229.6 L166.9,1227.5 L165.5,1225.4 L164.2,1223.2 L162.9,1221.1 L161.6,1218.9 L160.3,1216.8 L159.0,1214.6 L157.7,1212.4 L156.5,1210.2 L155.2,1208.1 L154.0,1205.9 L152.7,1203.7 L151.5,1201.5 L150.3,1199.2 L149.1,1197.0 L147.9,1194.8 L146.7,1192.6 L145.6,1190.3 L144.4,1188.1 L143.3,1185.8 L142.1,1183.6 L141.0,1181.3 L139.9,1179.1 L138.7,1176.8 L137.6,1174.5 L136.5,1172.3 L135.5,1170.0 L134.4,1167.7 L133.3,1165.4 L132.2,1163.1 L131.2,1160.8 L130.2,1158.5 L129.1,1156.2 L128.1,1153.9 L127.1,1151.6 L126.1,1149.3 L125.1,1146.9 L124.1,1144.6 L123.1,1142.3 L122.1,1139.9 L121.2,1137.6 L120.2,1135.3 L119.3,1132.9 L118.3,1130.6 L117.4,1128.2 L116.4,1125.9 L115.5,1123.5 L114.6,1121.2 L113.7,1118.8 L112.8,1116.4 L111.9,1114.1 L111.0,1111.7 L110.2,1109.3 L109.3,1106.9 L108.4,1104.5 L107.6,1102.2 L106.7,1099.8 L105.9,1097.4 L105.1,1095.0 L104.2,1092.6 L103.4,1090.2 L102.6,1087.8 L101.8,1085.4 L101.0,1083.0 L100.2,1080.6 L99.4,1078.2 L98.6,1075.8 L97.9,1073.4 L97.1,1071.0 L96.3,1068.5 L95.6,1066.1 L94.8,1063.7 L94.1,1061.3 L93.3,1058.9 L92.6,1056.5 L91.9,1054.0 L91.1,1051.6 L90.4,1049.2 L89.7,1046.7 L89.0,1044.3 L88.3,1041.9 L87.6,1039.5 L86.9,1037.0 L86.2,1034.6 L85.5,1032.2 L84.9,1029.7 L84.2,1027.3 L83.5,1024.8 L82.9,1022.4 L82.2,1020.0 L81.5,1017.5 L80.9,1015.1 L80.2,1012.7 L79.6,1010.2 L79.0,1007.8 L78.3,1005.3 L77.7,1002.9 L77.1,1000.5 L76.4,998.0 L75.8,995.6 L75.2,993.1 L74.6,990.7 L74.0,988.3 L73.4,985.8 L72.8,983.4 L72.2,980.9 L71.6,978.5 L71.0,976.1 L70.4,973.6 L69.8,971.2 L69.2,968.8 L68.6,966.3"/>
<path d="M196.6,1371.8 L193.8,1371.3 L191.1,1370.7 L188.6,1370.0 L186.1,1369.1 L183.6,1368.2 L181.3,1367.1 L179.1,1366.0 L176.9,1364.7 L174.8,1363.4 L172.8,1362.0 L170.9,1360.5 L169.0,1358.9 L167.2,1357.3 L165.5,1355.5 L163.8,1353.7 L162.2,1351.9 L160.7,1349.9 L159.3,1348.0 L157.9,1345.9 L156.5,1343.9 L155.2,1341.7 L154.0,1339.6 L152.8,1337.4 L151.6,1335.1 L150.5,1332.9 L149.4,1330.6 L148.3,1328.3 L147.3,1326.0 L146.2,1323.6 L145.2,1321.3 L144.2,1318.9 L143.3,1316.6 L142.3,1314.2 L141.4,1311.8 L140.5,1309.5 L139.5,1307.1 L138.6,1304.7 L137.8,1302.3 L136.9,1300.0 L136.0,1297.6 L135.2,1295.2 L134.3,1292.8 L133.5,1290.4 L132.7,1288.0 L131.9,1285.6 L131.1,1283.2 L130.3,1280.8 L129.6,1278.4 L128.8,1276.0 L128.0,1273.5 L127.3,1271.1 L126.6,1268.7 L125.8,1266.3 L125.1,1263.9 L124.4,1261.4 L123.7,1259.0 L123.0,1256.6 L122.3,1254.1 L121.6,1251.7 L121.0,1249.3 L120.3,1246.8 L119.6,1244.4 L119.0,1241.9 L118.3,1239.5 L117.7,1237.1 L117.0,1234.6 L116.4,1232.2 L115.8,1229.7 L115.1,1227.3 L114.5,1224.8 L113.9,1222.4 L113.3,1219.9 L112.6,1217.5 L112.0,1215.0 L111.4,1212.6 L110.8,1210.1 L110.2,1207.7 L109.6,1205.2 L109.0,1202.8 L108.4,1200.3 L107.8,1197.8 L107.2,1195.4 L106.7,1192.9 L106.1,1190.5 L105.5,1188.0 L104.9,1185.6 L104.4,1183.1 L103.8,1180.6 L103.2,1178.2 L102.7,1175.7 L102.1,1173.2 L101.6,1170.8 L101.0,1168.3 L100.5,1165.8 L99.9,1163.4 L99.4,1160.9 L98.9,1158.4 L98.3,1156.0 L97.8,1153.5 L97.3,1151.0 L96.7,1148.6 L96.2,1146.1 L95.7,1143.6 L95.2,1141.1 L94.7,1138.7 L94.2,1136.2 L93.7,1133.7 L93.2,1131.2 L92.7,1128.8 L92.2,1126.3 L91.7,1123.8 L91.2,1121.3 L90.7,1118.8 L90.2,1116.4 L89.7,1113.9 L89.3,1111.4 L88.8,1108.9 L88.3,1106.4 L87.9,1104.0 L87.4,1101.5 L86.9,1099.0 L86.5,1096.5 L86.0,1094.0 L85.6,1091.5 L85.1,1089.1 L84.7,1086.6 L84.2,1084.1 L83.8,1081.6 L83.3,1079.1 L82.9,1076.6 L82.5,1074.1 L82.0,1071.6 L81.6,1069.2 L81.2,1066.7 L80.7,1064.2 L80.3,1061.7 L79.9,1059.2 L79.5,1056.7 L79.1,1054.2 L78.7,1051.7 L78.3,1049.2 L77.9,1046.7 L77.5,1044.2 L77.1,1041.7 L76.7,1039.2 L76.3,1036.7 L75.9,1034.2 L75.5,1031.7 L75.1,1029.2 L74.7,1026.7 L74.3,1024.3 L74.0,1021.8 L73.6,1019.3 L73.2,1016.8 L72.8,1014.3 L72.5,1011.8 L72.1,1009.3 L71.7,1006.8 L71.4,1004.3 L71.0,1001.7 L70.7,999.2 L70.3,996.7 L69.9,994.2 L69.6,991.7 L69.3,989.2 L68.9,986.7 L68.6,984.2 L68.2,981.7 L67.9,979.2 L67.5,976.7 L67.2,974.2 L66.9,971.7 L66.5,969.2 L66.2,966.7"/>
<path d="M225.6,1473.4 L223.3,1472.1 L221.1,1470.7 L218.9,1469.3 L216.7,1467.9 L214.6,1466.5 L212.5,1465.0 L210.4,1463.5 L208.4,1461.9 L206.4,1460.4 L204.4,1458.8 L202.4,1457.2 L200.5,1455.6 L198.7,1453.9 L196.8,1452.2 L195.0,1450.5 L193.2,1448.8 L191.4,1447.0 L189.7,1445.2 L188.0,1443.4 L186.3,1441.6 L184.7,1439.7 L183.1,1437.9 L181.5,1436.0 L179.9,1434.1 L178.4,1432.1 L176.9,1430.2 L175.4,1428.2 L173.9,1426.2 L172.5,1424.2 L171.0,1422.2 L169.6,1420.1 L168.3,1418.1 L166.9,1416.0 L165.6,1413.9 L164.3,1411.8 L163.0,1409.6 L161.7,1407.5 L160.5,1405.3 L159.2,1403.2 L158.0,1401.0 L156.8,1398.8 L155.7,1396.6 L154.5,1394.3 L153.4,1392.1 L152.2,1389.9 L151.1,1387.6 L150.1,1385.3 L149.0,1383.0 L147.9,1380.7 L146.9,1378.4 L145.8,1376.1 L144.8,1373.8 L143.8,1371.5 L142.8,1369.2 L141.9,1366.8 L140.9,1364.5 L139.9,1362.1 L139.0,1359.8 L138.1,1357.4 L137.1,1355.0 L136.2,1352.6 L135.3,1350.3 L134.4,1347.9 L133.5,1345.5 L132.6,1343.1 L131.8,1340.7 L130.9,1338.3 L130.0,1335.9 L129.2,1333.5 L128.4,1331.1 L127.5,1328.7 L126.7,1326.3 L125.9,1323.9 L125.0,1321.5 L124.2,1319.1 L123.4,1316.6 L122.6,1314.2 L121.8,1311.8 L121.1,1309.4 L120.3,1307.0 L119.5,1304.5 L118.8,1302.1 L118.0,1299.7 L117.2,1297.2 L116.5,1294.8 L115.8,1292.4 L115.0,1289.9 L114.3,1287.5 L113.6,1285.1 L112.9,1282.6 L112.2,1280.2 L111.5,1277.8 L110.8,1275.3 L110.1,1272.9 L109.4,1270.4 L108.7,1268.0 L108.0,1265.5 L107.4,1263.1 L106.7,1260.6 L106.1,1258.2 L105.4,1255.7 L104.8,1253.3 L104.1,1250.8 L103.5,1248.4 L102.9,1245.9 L102.3,1243.5 L101.6,1241.0 L101.0,1238.6 L100.4,1236.1 L99.8,1233.7 L99.2,1231.2 L98.6,1228.7 L98.1,1226.3 L97.5,1223.8 L96.9,1221.4 L96.3,1218.9 L95.8,1216.5 L95.2,1214.0 L94.7,1211.5 L94.1,1209.1 L93.6,1206.6 L93.0,1204.1 L92.5,1201.7 L92.0,1199.2 L91.5,1196.8 L90.9,1194.3 L90.4,1191.8 L89.9,1189.4 L89.4,1186.9 L88.9,1184.4 L88.4,1182.0 L87.9,1179.5 L87.5,1177.0 L87.0,1174.6 L86.5,1172.1 L86.1,1169.6 L85.6,1167.2 L85.1,1164.7 L84.7,1162.2 L84.3,1159.7 L83.8,1157.3 L83.4,1154.8 L82.9,1152.3 L82.5,1149.8 L82.1,1147.4 L81.7,1144.9 L81.3,1142.4 L80.9,1139.9 L80.5,1137.5 L80.1,1135.0 L79.7,1132.5 L79.3,1130.0 L78.9,1127.5 L78.6,1125.0 L78.2,1122.6 L77.8,1120.1 L77.5,1117.6 L77.1,1115.1 L76.8,1112.6 L76.5,1110.1 L76.1,1107.7 L75.8,1105.2 L75.5,1102.7 L75.1,1100.2 L74.8,1097.7 L74.5,1095.2 L74.2,1092.7 L73.9,1090.2 L73.6,1087.7 L73.3,1085.2 L73.0,1082.7 L72.8,1080.2 L72.5,1077.7 L72.2,1075.2 L71.9,1072.7 L71.7,1070.2 L71.4,1067.7 L71.2,1065.2 L70.9,1062.7 L70.7,1060.2 L70.5,1057.7 L70.2,1055.2 L70.0,1052.7 L69.8,1050.2 L69.6,1047.7 L69.4,1045.2 L69.2,1042.6 L69.0,1040.1 L68.8,1037.6 L68.6,1035.1 L68.4,1032.6 L68.2,1030.1 L68.1,1027.6 L67.9,1025.0 L67.7,1022.5 L67.6,1020.0 L67.4,1017.5 L67.3,1014.9 L67.1,1012.4 L67.0,1009.9 L66.9,1007.4 L66.7,1004.8 L66.6,1002.3 L66.5,999.8 L66.4,997.2 L66.3,994.7 L66.2,992.2 L66.1,989.6 L66.0,987.1 L65.9,984.6 L65.8,982.0 L65.7,979.5 L65.7,976.9 L65.6,974.4 L65.5,971.9 L65.5,969.3 L65.4,966.8"/>
<path d="M414.3,1569.0 L411.9,1569.2 L409.5,1569.5 L407.0,1569.7 L404.6,1570.0 L402.1,1570.3 L399.7,1570.5 L397.2,1570.8 L394.8,1571.1 L392.3,1571.3 L389.8,1571.6 L387.4,1571.9 L384.9,1572.1 L382.4,1572.4 L379.9,1572.7 L377.4,1573.0 L374.9,1573.2 L372.4,1573.5 L369.9,1573.8 L367.4,1574.0 L364.9,1574.3 L362.3,1574.5 L359.8,1574.7 L357.3,1575.0 L354.8,1575.2 L352.2,1575.4 L349.7,1575.6 L347.2,1575.8 L344.6,1576.0 L342.1,1576.2 L339.6,1576.4 L337.0,1576.5 L334.5,1576.7 L331.9,1576.8 L329.4,1576.9 L326.9,1577.0 L324.3,1577.1 L321.8,1577.2 L319.2,1577.3 L316.7,1577.3 L314.1,1577.3 L311.6,1577.3 L309.1,1577.3 L306.5,1577.3 L304.0,1577.2 L301.4,1577.2 L298.9,1577.1 L296.4,1577.0 L293.8,1576.8 L291.3,1576.7 L288.8,1576.5 L286.3,1576.3 L283.7,1576.1 L281.2,1575.8 L278.7,1575.6 L276.2,1575.2 L273.7,1574.9 L271.2,1574.6 L268.7,1574.2 L266.2,1573.8 L263.7,1573.3 L261.2,1572.8 L258.7,1572.3 L256.2,1571.8 L253.7,1571.2 L251.3,1570.7 L248.8,1570.0 L246.4,1569.4 L243.9,1568.7 L241.5,1568.0 L239.1,1567.3 L236.7,1566.5 L234.3,1565.7 L231.9,1564.9 L229.5,1564.1 L227.2,1563.2 L224.8,1562.3 L222.5,1561.4 L220.2,1560.4 L217.9,1559.4 L215.6,1558.4 L213.3,1557.3 L211.0,1556.2 L208.8,1555.1 L206.6,1554.0 L204.4,1552.8 L202.2,1551.6 L200.1,1550.4 L197.9,1549.1 L195.8,1547.9 L193.7,1546.5 L191.6,1545.2 L189.6,1543.8 L187.5,1542.4 L185.5,1541.0 L183.5,1539.5 L181.6,1538.0 L179.6,1536.5 L177.7,1534.9 L175.9,1533.4 L174.0,1531.7 L172.2,1530.1 L170.4,1528.4 L168.6,1526.7 L166.9,1525.0 L165.1,1523.2 L163.5,1521.4 L161.8,1519.6 L160.2,1517.8 L158.6,1515.9 L157.0,1514.0 L155.5,1512.0 L154.0,1510.1 L152.5,1508.1 L151.1,1506.0 L149.7,1504.0 L148.3,1501.9 L147.0,1499.8 L145.6,1497.7 L144.3,1495.6 L143.1,1493.4 L141.8,1491.2 L140.6,1489.0 L139.4,1486.8 L138.2,1484.6 L137.1,1482.3 L136.0,1480.0 L134.9,1477.8 L133.8,1475.5 L132.7,1473.1 L131.7,1470.8 L130.7,1468.5 L129.7,1466.1 L128.7,1463.8 L127.7,1461.4 L126.8,1459.0 L125.9,1456.6 L124.9,1454.2 L124.1,1451.8 L123.2,1449.4 L122.3,1447.0 L121.5,1444.6 L120.7,1442.2 L119.8,1439.7 L119.0,1437.3 L118.2,1434.9 L117.5,1432.5 L116.7,1430.0 L116.0,1427.6 L115.2,1425.2 L114.5,1422.7 L113.8,1420.3 L113.1,1417.9 L112.4,1415.4 L111.7,1413.0 L111.1,1410.6 L110.4,1408.1 L109.8,1405.7 L109.1,1403.2 L108.5,1400.8 L107.9,1398.3 L107.3,1395.9 L106.7,1393.4 L106.2,1391.0 L105.6,1388.5 L105.0,1386.1 L104.5,1383.6 L103.9,1381.2 L103.4,1378.7 L102.9,1376.3 L102.4,1373.8 L101.9,1371.3 L101.4,1368.9 L100.9,1366.4 L100.4,1364.0 L99.9,1361.5 L99.5,1359.0 L99.0,1356.6 L98.6,1354.1 L98.1,1351.6 L97.7,1349.2 L97.2,1346.7 L96.8,1344.2 L96.4,1341.8 L96.0,1339.3 L95.6,1336.8 L95.2,1334.3 L94.8,1331.9 L94.4,1329.4 L94.0,1326.9 L93.6,1324.4 L93.2,1322.0 L92.9,1319.5 L92.5,1317.0 L92.1,1314.5 L91.8,1312.0 L91.4,1309.6 L91.1,1307.1 L90.7,1304.6 L90.4,1302.1 L90.0,1299.6 L89.7,1297.2 L89.4,1294.7 L89.0,1292.2 L88.7,1289.7 L88.4,1287.2 L88.0,1284.7 L87.7,1282.2 L87.4,1279.8 L87.0,1277.3 L86.7,1274.8 L86.4,1272.3 L86.1,1269.8 L85.8,1267.3 L85.4,1264.8 L85.1,1262.3 L84.8,1259.9 L84.5,1257.4 L84.2,1254.9 L83.9,1252.4 L83.6,1249.9 L83.3,1247.4 L83.0,1244.9 L82.7,1242.4 L82.4,1239.9 L82.1,1237.4 L81.8,1234.9 L81.5,1232.4 L81.2,1230.0 L81.0,1227.5 L80.7,1225.0 L80.4,1222.5 L80.1,1220.0 L79.8,1217.5 L79.6,1215.0 L79.3,1212.5 L79.0,1210.0 L78.8,1207.5 L78.5,1205.0 L78.2,1202.5 L78.0,1200.0 L77.7,1197.5 L77.5,1195.0 L77.2,1192.5 L77.0,1190.0 L76.7,1187.5 L76.5,1185.0 L76.2,1182.5 L76.0,1180.0 L75.7,1177.5 L75.5,1175.0 L75.3,1172.5 L75.0,1170.0 L74.8,1167.5 L74.6,1165.0 L74.3,1162.5 L74.1,1160.0 L73.9,1157.5 L73.7,1155.0 L73.5,1152.5 L73.2,1150.0 L73.0,1147.5 L72.8,1145.0 L72.6,1142.5 L72.4,1140.0 L72.2,1137.5 L72.0,1135.0 L71.8,1132.4 L71.6,1129.9 L71.4,1127.4 L71.2,1124.9 L71.0,1122.4 L70.9,1119.9 L70.7,1117.4 L70.5,1114.9 L70.3,1112.4 L70.1,1109.9 L70.0,1107.4 L69.8,1104.9 L69.6,1102.4 L69.5,1099.9 L69.3,1097.4 L69.1,1094.8 L69.0,1092.3 L68.8,1089.8 L68.7,1087.3 L68.5,1084.8 L68.4,1082.3 L68.2,1079.8 L68.1,1077.3 L67.9,1074.8 L67.8,1072.3 L67.7,1069.8 L67.5,1067.2 L67.4,1064.7 L67.3,1062.2 L67.2,1059.7 L67.0,1057.2 L66.9,1054.7 L66.8,1052.2 L66.7,1049.7 L66.6,1047.2 L66.5,1044.7 L66.4,1042.1 L66.3,1039.6 L66.2,1037.1 L66.1,1034.6 L66.0,1032.1 L65.9,1029.6 L65.8,1027.1 L65.7,1024.6 L65.6,1022.1 L65.5,1019.5 L65.5,1017.0 L65.4,1014.5 L65.3,1012.0 L65.3,1009.5 L65.2,1007.0 L65.1,1004.5 L65.1,1002.0 L65.0,999.4 L65.0,996.9 L64.9,994.4 L64.9,991.9 L64.8,989.4 L64.8,986.9 L64.7,984.4 L64.7,981.9 L64.7,979.4 L64.6,976.8 L64.6,974.3 L64.6,971.8 L64.6,969.3 L64.5,966.8"/>
<path d="M417.7,1631.5 L415.2,1631.8 L412.8,1632.0 L410.3,1632.3 L407.8,1632.6 L405.3,1632.8 L402.9,1633.1 L400.4,1633.3 L397.9,1633.6 L395.4,1633.8 L392.9,1634.0 L390.4,1634.3 L387.9,1634.5 L385.4,1634.7 L382.9,1634.9 L380.4,1635.1 L377.9,1635.3 L375.4,1635.5 L372.9,1635.6 L370.4,1635.8 L367.9,1636.0 L365.4,1636.1 L362.9,1636.3 L360.4,1636.4 L357.8,1636.5 L355.3,1636.6 L352.8,1636.7 L350.3,1636.8 L347.8,1636.9 L345.2,1636.9 L342.7,1637.0 L340.2,1637.0 L337.7,1637.1 L335.2,1637.1 L332.6,1637.1 L330.1,1637.1 L327.6,1637.1 L325.1,1637.0 L322.5,1637.0 L320.0,1636.9 L317.5,1636.8 L315.0,1636.8 L312.4,1636.6 L309.9,1636.5 L307.4,1636.4 L304.9,1636.2 L302.4,1636.1 L299.8,1635.9 L297.3,1635.7 L294.8,1635.4 L292.3,1635.2 L289.8,1634.9 L287.2,1634.7 L284.7,1634.4 L282.2,1634.0 L279.7,1633.7 L277.2,1633.4 L274.7,1633.0 L272.2,1632.6 L269.7,1632.2 L267.2,1631.7 L264.7,1631.3 L262.2,1630.8 L259.7,1630.3 L257.2,1629.8 L254.7,1629.2 L252.2,1628.7 L249.7,1628.1 L247.3,1627.5 L244.8,1626.8 L242.4,1626.1 L239.9,1625.5 L237.5,1624.7 L235.1,1624.0 L232.7,1623.2 L230.3,1622.4 L227.9,1621.6 L225.5,1620.7 L223.2,1619.8 L220.9,1618.9 L218.5,1617.9 L216.2,1616.9 L214.0,1615.9 L211.7,1614.9 L209.4,1613.8 L207.2,1612.7 L205.0,1611.5 L202.8,1610.4 L200.7,1609.1 L198.5,1607.9 L196.4,1606.6 L194.3,1605.3 L192.2,1603.9 L190.2,1602.5 L188.2,1601.1 L186.2,1599.6 L184.2,1598.1 L182.3,1596.5 L180.4,1595.0 L178.5,1593.4 L176.6,1591.7 L174.8,1590.0 L173.0,1588.3 L171.2,1586.6 L169.5,1584.8 L167.7,1583.0 L166.1,1581.2 L164.4,1579.3 L162.7,1577.5 L161.1,1575.6 L159.5,1573.6 L158.0,1571.7 L156.4,1569.7 L154.9,1567.7 L153.4,1565.7 L152.0,1563.7 L150.5,1561.6 L149.1,1559.5 L147.8,1557.4 L146.4,1555.3 L145.1,1553.2 L143.8,1551.0 L142.5,1548.9 L141.3,1546.7 L140.1,1544.5 L138.9,1542.3 L137.7,1540.1 L136.6,1537.9 L135.5,1535.6 L134.4,1533.4 L133.3,1531.1 L132.3,1528.8 L131.2,1526.5 L130.2,1524.2 L129.2,1521.9 L128.3,1519.6 L127.3,1517.3 L126.4,1514.9 L125.5,1512.6 L124.6,1510.2 L123.8,1507.8 L122.9,1505.5 L122.1,1503.1 L121.3,1500.7 L120.5,1498.3 L119.7,1495.9 L118.9,1493.4 L118.2,1491.0 L117.4,1488.6 L116.7,1486.1 L116.0,1483.7 L115.3,1481.3 L114.6,1478.8 L114.0,1476.3 L113.3,1473.9 L112.7,1471.4 L112.0,1468.9 L111.4,1466.5 L110.8,1464.0 L110.2,1461.5 L109.6,1459.0 L109.0,1456.6 L108.5,1454.1 L107.9,1451.6 L107.3,1449.1 L106.8,1446.6 L106.2,1444.2 L105.7,1441.7 L105.1,1439.2 L104.6,1436.7 L104.1,1434.2 L103.6,1431.7 L103.0,1429.3 L102.5,1426.8 L102.0,1424.3 L101.5,1421.8 L101.0,1419.3 L100.5,1416.9 L100.1,1414.4 L99.6,1411.9 L99.1,1409.4 L98.6,1407.0 L98.2,1404.5 L97.7,1402.0 L97.2,1399.5 L96.8,1397.1 L96.3,1394.6 L95.9,1392.1 L95.5,1389.7 L95.0,1387.2 L94.6,1384.7 L94.2,1382.2 L93.7,1379.8 L93.3,1377.3 L92.9,1374.8 L92.5,1372.4 L92.1,1369.9 L91.7,1367.4 L91.3,1364.9 L90.9,1362.5 L90.5,1360.0 L90.1,1357.5 L89.8,1355.1 L89.4,1352.6 L89.0,1350.1 L88.7,1347.6 L88.3,1345.2 L87.9,1342.7 L87.6,1340.2 L87.2,1337.7 L86.9,1335.3 L86.6,1332.8 L86.2,1330.3 L85.9,1327.8 L85.6,1325.4 L85.2,1322.9 L84.9,1320.4 L84.6,1317.9 L84.3,1315.5 L84.0,1313.0 L83.7,1310.5 L83.3,1308.0 L83.0,1305.5 L82.8,1303.1 L82.5,1300.6 L82.2,1298.1 L81.9,1295.6 L81.6,1293.1 L81.3,1290.6 L81.0,1288.1 L80.8,1285.6 L80.5,1283.2 L80.2,1280.7 L80.0,1278.2 L79.7,1275.7 L79.5,1273.2 L79.2,1270.7 L78.9,1268.2 L78.7,1265.7 L78.5,1263.2 L78.2,1260.7 L78.0,1258.2 L77.7,1255.7 L77.5,1253.2 L77.3,1250.7 L77.1,1248.2 L76.8,1245.7 L76.6,1243.2 L76.4,1240.7 L76.2,1238.2 L76.0,1235.7 L75.8,1233.2 L75.5,1230.7 L75.3,1228.2 L75.1,1225.7 L74.9,1223.2 L74.8,1220.6 L74.6,1218.1 L74.4,1215.6 L74.2,1213.1 L74.0,1210.6 L73.8,1208.1 L73.6,1205.6 L73.5,1203.1 L73.3,1200.6 L73.1,1198.0 L72.9,1195.5 L72.8,1193.0 L72.6,1190.5 L72.4,1188.0 L72.3,1185.5 L72.1,1183.0 L72.0,1180.4 L71.8,1177.9 L71.7,1175.4 L71.5,1172.9 L71.4,1170.4 L71.2,1167.8 L71.1,1165.3 L70.9,1162.8 L70.8,1160.3 L70.7,1157.8 L70.5,1155.3 L70.4,1152.7 L70.3,1150.2 L70.1,1147.7 L70.0,1145.2 L69.9,1142.7 L69.8,1140.1 L69.6,1137.6 L69.5,1135.1 L69.4,1132.6 L69.3,1130.1 L69.2,1127.5 L69.1,1125.0 L68.9,1122.5 L68.8,1120.0 L68.7,1117.5 L68.6,1114.9 L68.5,1112.4 L68.4,1109.9 L68.3,1107.4 L68.2,1104.8 L68.1,1102.3 L68.0,1099.8 L67.9,1097.3 L67.8,1094.8 L67.7,1092.2 L67.7,1089.7 L67.6,1087.2 L67.5,1084.7 L67.4,1082.2 L67.3,1079.7 L67.2,1077.1 L67.1,1074.6 L67.1,1072.1 L67.0,1069.6 L66.9,1067.1 L66.8,1064.5 L66.7,1062.0 L66.7,1059.5 L66.6,1057.0 L66.5,1054.5 L66.4,1052.0 L66.4,1049.5 L66.3,1046.9 L66.2,1044.4 L66.2,1041.9 L66.1,1039.4 L66.0,1036.9 L65.9,1034.4 L65.9,1031.9 L65.8,1029.4 L65.8,1026.8 L65.7,1024.3 L65.6,1021.8 L65.6,1019.3 L65.5,1016.8 L65.4,1014.3 L65.4,1011.8 L65.3,1009.3 L65.3,1006.8 L65.2,1004.3 L65.1,1001.8 L65.1,999.3 L65.0,996.8 L65.0,994.3 L64.9,991.8 L64.9,989.3 L64.8,986.8 L64.7,984.3 L64.7,981.8 L64.6,979.3 L64.6,976.8 L64.5,974.3 L64.5,971.8 L64.4,969.3 L64.4,966.8"/>
<path d="M695.5,127.3 L693.8,125.4 L692.1,123.5 L690.3,121.6 L688.6,119.7 L686.8,117.8 L685.0,116.0 L683.2,114.2 L681.4,112.3 L679.6,110.6 L677.7,108.8 L675.9,107.0 L674.0,105.3 L672.1,103.6 L670.2,101.9 L668.3,100.2 L666.3,98.6 L664.4,97.0 L662.4,95.3 L660.5,93.7 L658.5,92.2 L656.5,90.6 L654.4,89.1 L652.4,87.6 L650.4,86.1 L648.3,84.6 L646.2,83.2 L644.2,81.7 L642.1,80.3 L640.0,78.9 L637.8,77.6 L635.7,76.2 L633.6,74.9 L631.4,73.6 L629.2,72.3 L627.1,71.0 L624.9,69.8 L622.7,68.6 L620.5,67.4 L618.2,66.2 L616.0,65.1 L613.8,63.9 L611.5,62.8 L609.3,61.7 L607.0,60.7 L604.7,59.6 L602.4,58.6 L600.1,57.6 L597.8,56.7 L595.5,55.7 L593.2,54.8 L590.8,53.9 L588.5,53.0 L586.1,52.1 L583.8,51.3 L581.4,50.5 L579.0,49.7 L576.7,48.9 L574.3,48.2 L571.9,47.4 L569.5,46.7 L567.1,46.0 L564.7,45.4 L562.2,44.7 L559.8,44.1 L557.4,43.5 L554.9,42.9 L552.5,42.4 L550.0,41.8 L547.6,41.3 L545.1,40.8 L542.6,40.3 L540.2,39.9 L537.7,39.5 L535.2,39.0 L532.7,38.6 L530.2,38.3 L527.8,37.9 L525.3,37.6 L522.8,37.3 L520.3,37.0 L517.8,36.7 L515.2,36.5 L512.7,36.3 L510.2,36.0 L507.7,35.9 L505.2,35.7 L502.7,35.5 L500.1,35.4 L497.6,35.3 L495.1,35.2 L492.6,35.1 L490.0,35.1 L487.5,35.1 L485.0,35.0 L482.4,35.1 L479.9,35.1 L477.4,35.1 L474.9,35.2 L472.3,35.3 L469.8,35.4 L467.3,35.5 L464.7,35.6 L462.2,35.8 L459.7,36.0 L457.1,36.2 L454.6,36.4 L452.1,36.6 L449.6,36.8 L447.0,37.1 L444.5,37.3 L442.0,37.6 L439.4,37.9 L436.9,38.3 L434.4,38.6 L431.9,38.9 L429.4,39.3 L426.8,39.7 L424.3,40.1 L421.8,40.5 L419.3,40.9 L416.8,41.3 L414.3,41.8 L411.8,42.2 L409.3,42.7 L406.8,43.2 L404.3,43.7 L401.8,44.2 L399.3,44.7 L396.8,45.3 L394.3,45.8 L391.8,46.4 L389.4,47.0 L386.9,47.5 L384.4,48.1 L381.9,48.7 L379.5,49.3 L377.0,50.0 L374.6,50.6 L372.1,51.2 L369.7,51.9 L367.2,52.6 L364.8,53.2 L362.3,53.9 L359.9,54.6 L357.5,55.3 L355.1,56.0 L352.6,56.7 L350.2,57.4 L347.8,58.2 L345.4,58.9 L343.0,59.6 L340.6,60.4 L338.2,61.2 L335.9,61.9 L333.5,62.7 L331.1,63.5 L328.8,64.2 L326.4,65.0 L324.0,65.8 L321.7,66.6 L319.4,67.4"/>
<path d="M424.00,101.70 L332.10,132.25"/>
<path d="M418.40,150.20 L335.79,153.03"/>
<path d="M395.50,217.70 L343.38,220.31"/>
<path d="M650.2,337.6 L647.7,337.1 L645.3,336.6 L642.8,336.1 L640.3,335.6 L637.8,335.1 L635.3,334.6 L632.9,334.1 L630.4,333.6 L627.9,333.1 L625.4,332.7 L622.9,332.2 L620.5,331.8 L618.0,331.3 L615.5,330.9 L613.0,330.4 L610.5,330.0 L608.0,329.6 L605.6,329.1 L603.1,328.7 L600.6,328.3 L598.1,327.9 L595.6,327.5 L593.1,327.1 L590.6,326.7 L588.1,326.3 L585.6,325.9 L583.1,325.5 L580.6,325.1 L578.1,324.8 L575.6,324.4 L573.1,324.0 L570.7,323.7 L568.2,323.3 L565.7,322.9 L563.2,322.6 L560.7,322.2 L558.2,321.9 L555.7,321.6 L553.2,321.2 L550.7,320.9 L548.1,320.6 L545.6,320.2 L543.1,319.9 L540.6,319.6 L538.1,319.3 L535.6,319.0 L533.1,318.7 L530.6,318.4 L528.1,318.1 L525.6,317.8 L523.1,317.5 L520.6,317.2 L518.1,316.9 L515.6,316.6 L513.1,316.3 L510.6,316.0 L508.0,315.7 L505.5,315.5 L503.0,315.2 L500.5,314.9 L498.0,314.7 L495.5,314.4 L493.0,314.1 L490.5,313.9 L488.0,313.6 L485.4,313.3 L482.9,313.1 L480.4,312.8 L477.9,312.6 L475.4,312.3 L472.9,312.1 L470.4,311.8 L467.8,311.6 L465.3,311.3 L462.8,311.1 L460.3,310.9 L457.8,310.6 L455.3,310.4 L452.8,310.2 L450.2,309.9 L447.7,309.7 L445.2,309.5 L442.7,309.2 L440.2,309.0 L437.7,308.8 L435.1,308.5 L432.6,308.3 L430.1,308.1 L427.6,307.9 L425.1,307.6 L422.6,307.4 L420.0,307.2 L417.5,307.0 L415.0,306.8 L412.5,306.5 L410.0,306.3 L407.5,306.1 L404.9,305.9 L402.4,305.7 L399.9,305.4 L397.4,305.2 L394.9,305.0 L392.4,304.8 L389.8,304.6 L387.3,304.3 L384.8,304.1 L382.3,303.9 L379.8,303.7 L377.3,303.5 L374.8,303.2 L372.2,303.0 L369.7,302.8 L367.2,302.6 L364.7,302.4 L362.2,302.1 L359.7,301.9 L357.2,301.7 L354.6,301.5 L352.1,301.2 L349.6,301.0 L347.1,300.8 L344.6,300.6 L342.1,300.3 L339.6,300.1 L337.1,299.9 L334.5,299.6"/>
<path d="M650.2,344.9 L647.7,344.8 L645.2,344.7 L642.6,344.6 L640.1,344.5 L637.6,344.4 L635.1,344.2 L632.5,344.1 L630.0,344.0 L627.5,343.9 L624.9,343.8 L622.4,343.7 L619.9,343.6 L617.3,343.4 L614.8,343.3 L612.3,343.2 L609.7,343.1 L607.2,343.0 L604.7,342.9 L602.1,342.8 L599.6,342.6 L597.1,342.5 L594.5,342.4 L592.0,342.3 L589.4,342.2 L586.9,342.1 L584.4,342.0 L581.8,341.9 L579.3,341.8 L576.7,341.7 L574.2,341.6 L571.6,341.5 L569.1,341.4 L566.6,341.3 L564.0,341.2 L561.5,341.1 L558.9,341.0 L556.4,340.9 L553.8,340.8 L551.3,340.8 L548.8,340.7 L546.2,340.6 L543.7,340.5 L541.1,340.5 L538.6,340.4 L536.0,340.4 L533.5,340.3 L530.9,340.3 L528.4,340.2 L525.8,340.2 L523.3,340.1 L520.8,340.1 L518.2,340.1 L515.7,340.0 L513.1,340.0 L510.6,340.0 L508.0,340.0 L505.5,340.0 L502.9,340.0 L500.4,340.0 L497.9,340.0 L495.3,340.0 L492.8,340.0 L490.2,340.0 L487.7,340.1 L485.1,340.1 L482.6,340.2 L480.1,340.2 L477.5,340.3 L475.0,340.3 L472.4,340.4 L469.9,340.5 L467.4,340.6 L464.8,340.6 L462.3,340.7 L459.8,340.8 L457.2,341.0 L454.7,341.1 L452.2,341.2 L449.6,341.3 L447.1,341.5 L444.6,341.6 L442.0,341.8 L439.5,341.9 L437.0,342.1 L434.4,342.3 L431.9,342.5 L429.4,342.7 L426.9,342.9 L424.3,343.1 L421.8,343.3 L419.3,343.6 L416.8,343.8 L414.2,344.0 L411.7,344.3 L409.2,344.6 L406.7,344.9 L404.2,345.1 L401.7,345.4 L399.1,345.8 L396.6,346.1 L394.1,346.4 L391.6,346.7 L389.1,347.1 L386.6,347.4 L384.1,347.8 L381.6,348.2 L379.1,348.6 L376.6,349.0 L374.1,349.4 L371.6,349.8 L369.1,350.3 L366.6,350.7 L364.1,351.2 L361.6,351.6 L359.1,352.1 L356.6,352.6 L354.1,353.1 L351.6,353.6 L349.1,354.2 L346.6,354.7 L344.2,355.3 L341.7,355.8 L339.2,356.4 L336.7,357.0 L334.3,357.6"/>
<path d="M415.40,380.50 L334.60,380.50"/>
<path d="M415.40,400.20 L334.08,423.06"/>
<path d="M421.70,445.80 L334.60,445.80"/>
<path d="M420.3,529.2 L417.8,530.1 L415.4,531.1 L413.0,532.0 L410.6,533.1 L408.2,534.1 L405.9,535.2 L403.6,536.4 L401.4,537.5 L399.1,538.7 L396.9,540.0 L394.7,541.2 L392.5,542.6 L390.4,543.9 L388.3,545.3 L386.2,546.7 L384.1,548.1 L382.1,549.6 L380.1,551.0 L378.1,552.6 L376.1,554.1 L374.1,555.7 L372.2,557.3 L370.3,558.9 L368.4,560.6 L366.5,562.2 L364.7,563.9 L362.9,565.7 L361.0,567.4 L359.3,569.2 L357.5,571.0 L355.7,572.8 L354.0,574.6 L352.2,576.5 L350.5,578.3 L348.8,580.2 L347.2,582.1 L345.5,584.0 L343.8,586.0 L342.2,587.9 L340.6,589.9 L339.0,591.9 L337.4,593.9 L335.8,595.9 L334.2,597.9 L332.6,600.0 L331.1,602.0 L329.5,604.1 L328.0,606.1 L326.5,608.2 L325.0,610.3 L323.4,612.4 L321.9,614.5 L320.5,616.6 L319.0,618.7 L317.5,620.8 L316.0,623.0 L314.5,625.1 L313.1,627.2 L311.6,629.4 L310.2,631.5 L308.7,633.6 L307.3,635.8 L305.8,637.9 L304.4,640.1 L303.0,642.2 L301.5,644.3 L300.1,646.5 L298.7,648.6 L297.2,650.7 L295.8,652.9 L294.4,655.0 L292.9,657.1 L291.5,659.2 L290.0,661.3 L288.6,663.4 L287.2,665.5 L285.7,667.6 L284.3,669.6 L282.8,671.7 L281.3,673.8 L279.9,675.8 L278.4,677.8 L276.9,679.8 L275.5,681.8 L274.0,683.8 L272.5,685.8"/>
<path d="M432.7,596.5 L430.3,597.6 L428.0,598.6 L425.7,599.7 L423.3,600.8 L421.0,602.0 L418.7,603.1 L416.4,604.3 L414.2,605.4 L411.9,606.6 L409.6,607.8 L407.4,609.0 L405.1,610.3 L402.9,611.5 L400.6,612.8 L398.4,614.1 L396.2,615.3 L394.0,616.6 L391.8,618.0 L389.6,619.3 L387.4,620.6 L385.2,621.9 L383.1,623.3 L380.9,624.7 L378.7,626.0 L376.6,627.4 L374.4,628.8 L372.3,630.2 L370.1,631.6 L368.0,633.0 L365.8,634.4 L363.7,635.9 L361.6,637.3 L359.5,638.7 L357.3,640.2 L355.2,641.6 L353.1,643.1 L351.0,644.6 L348.9,646.0 L346.8,647.5 L344.7,649.0 L342.6,650.4 L340.5,651.9 L338.4,653.4 L336.3,654.9 L334.2,656.3 L332.1,657.8 L330.0,659.3 L327.9,660.8 L325.8,662.3 L323.7,663.8 L321.6,665.2 L319.5,666.7 L317.4,668.2 L315.3,669.7 L313.2,671.1 L311.1,672.6 L309.0,674.1 L306.9,675.5 L304.8,677.0 L302.7,678.5 L300.6,679.9 L298.5,681.3 L296.4,682.8 L294.3,684.2 L292.1,685.6 L290.0,687.1 L287.9,688.5 L285.7,689.9"/>
<path d="M646.5,670.0 L644.1,669.7 L641.6,669.3 L639.1,669.0 L636.7,668.6 L634.2,668.3 L631.8,667.9 L629.3,667.6 L626.8,667.2 L624.4,666.9 L621.9,666.5 L619.4,666.2 L616.9,665.8 L614.4,665.5 L612.0,665.1 L609.5,664.8 L607.0,664.4 L604.5,664.1 L602.0,663.8 L599.5,663.4 L597.0,663.1 L594.5,662.8 L592.0,662.4 L589.5,662.1 L586.9,661.8 L584.4,661.5 L581.9,661.2 L579.4,660.9 L576.9,660.6 L574.4,660.3 L571.8,660.0 L569.3,659.7 L566.8,659.4 L564.3,659.1 L561.7,658.8 L559.2,658.5 L556.7,658.3 L554.1,658.0 L551.6,657.7 L549.1,657.5 L546.5,657.2 L544.0,657.0 L541.5,656.8 L538.9,656.5 L536.4,656.3 L533.9,656.1 L531.3,655.9 L528.8,655.7 L526.2,655.5 L523.7,655.3 L521.2,655.1 L518.6,654.9 L516.1,654.8 L513.5,654.6 L511.0,654.5 L508.4,654.3 L505.9,654.2 L503.4,654.1 L500.8,654.0 L498.3,653.9 L495.7,653.8 L493.2,653.7 L490.7,653.6 L488.1,653.5 L485.6,653.5 L483.0,653.4 L480.5,653.4 L478.0,653.4 L475.4,653.3 L472.9,653.3 L470.4,653.3 L467.8,653.4 L465.3,653.4 L462.8,653.4 L460.3,653.5 L457.7,653.5 L455.2,653.6 L452.7,653.7 L450.2,653.8 L447.6,653.9 L445.1,654.0 L442.6,654.2 L440.1,654.3 L437.6,654.5 L435.1,654.7 L432.6,654.9 L430.1,655.1 L427.6,655.3 L425.1,655.5 L422.6,655.8 L420.1,656.0 L417.6,656.3 L415.1,656.6 L412.6,656.9 L410.1,657.2 L407.6,657.6 L405.1,657.9 L402.6,658.3 L400.2,658.7 L397.7,659.1 L395.2,659.5 L392.8,659.9 L390.3,660.3 L387.8,660.8 L385.4,661.3 L382.9,661.8 L380.5,662.3 L378.0,662.8 L375.6,663.4 L373.2,663.9 L370.7,664.5 L368.3,665.1 L365.9,665.8 L363.5,666.4 L361.0,667.1 L358.6,667.7 L356.2,668.4 L353.8,669.1 L351.4,669.9 L349.0,670.6 L346.6,671.4 L344.2,672.2 L341.8,673.0 L339.5,673.8 L337.1,674.7 L334.7,675.6 L332.4,676.4 L330.0,677.4 L327.6,678.3 L325.3,679.2 L323.0,680.2 L320.6,681.2 L318.3,682.2 L316.0,683.3 L313.6,684.3 L311.3,685.4 L309.0,686.5 L306.7,687.7 L304.4,688.8 L302.1,690.0 L299.8,691.2"/>
<path d="M428.20,692.00 L327.52,702.56"/>
<path d="M412.30,728.40 L327.53,719.88"/>
<path d="M434.50,774.60 L301.74,728.52"/>
<path d="M468.40,876.00 L284.09,732.48"/>
<path d="M640.20,802.80 C525.05,822.23 508.18,823.80 344.14,848.91"/>
<path d="M654.8,976.6 L652.3,976.1 L649.8,975.5 L647.4,975.0 L644.9,974.5 L642.4,974.0 L639.9,973.5 L637.4,973.0 L634.9,972.6 L632.4,972.1 L629.9,971.6 L627.4,971.2 L625.0,970.7 L622.5,970.3 L620.0,969.9 L617.5,969.4 L615.0,969.0 L612.5,968.6 L610.0,968.2 L607.5,967.8 L605.0,967.4 L602.5,967.0 L600.0,966.6 L597.5,966.2 L595.0,965.8 L592.5,965.5 L590.0,965.1 L587.4,964.8 L584.9,964.4 L582.4,964.1 L579.9,963.7 L577.4,963.4 L574.9,963.1 L572.4,962.7 L569.9,962.4 L567.4,962.1 L564.9,961.8 L562.3,961.5 L559.8,961.2 L557.3,960.9 L554.8,960.6 L552.3,960.3 L549.8,960.0 L547.3,959.7 L544.7,959.5 L542.2,959.2 L539.7,958.9 L537.2,958.7 L534.7,958.4 L532.1,958.1 L529.6,957.9 L527.1,957.6 L524.6,957.4 L522.0,957.2 L519.5,956.9 L517.0,956.7 L514.5,956.4 L512.0,956.2 L509.4,956.0 L506.9,955.8 L504.4,955.5 L501.9,955.3 L499.3,955.1 L496.8,954.9 L494.3,954.7 L491.8,954.5 L489.2,954.3 L486.7,954.1 L484.2,953.9 L481.6,953.7 L479.1,953.5 L476.6,953.3 L474.1,953.1 L471.5,952.9 L469.0,952.7 L466.5,952.5 L463.9,952.3 L461.4,952.1 L458.9,951.9 L456.4,951.7 L453.8,951.5 L451.3,951.3 L448.8,951.2 L446.2,951.0 L443.7,950.8 L441.2,950.6 L438.7,950.4 L436.1,950.2 L433.6,950.0 L431.1,949.9 L428.5,949.7 L426.0,949.5 L423.5,949.3 L421.0,949.1 L418.4,948.9 L415.9,948.8 L413.4,948.6 L410.8,948.4 L408.3,948.2 L405.8,948.0 L403.3,947.8 L400.7,947.6 L398.2,947.4 L395.7,947.2 L393.2,947.1 L390.6,946.9 L388.1,946.7 L385.6,946.5 L383.0,946.3 L380.5,946.1 L378.0,945.9 L375.5,945.7 L373.0,945.4 L370.4,945.2 L367.9,945.0 L365.4,944.8 L362.9,944.6 L360.3,944.4 L357.8,944.2 L355.3,943.9 L352.8,943.7 L350.3,943.5"/>
<path d="M417.60,989.90 L335.40,989.90"/>
<path d="M654.8,1002.5 L652.3,1003.0 L649.8,1003.5 L647.4,1004.0 L644.9,1004.5 L642.4,1004.9 L639.9,1005.4 L637.4,1005.9 L635.0,1006.4 L632.5,1006.8 L630.0,1007.3 L627.5,1007.8 L625.0,1008.2 L622.5,1008.7 L620.1,1009.1 L617.6,1009.5 L615.1,1010.0 L612.6,1010.4 L610.1,1010.9 L607.6,1011.3 L605.1,1011.7 L602.6,1012.1 L600.2,1012.5 L597.7,1013.0 L595.2,1013.4 L592.7,1013.8 L590.2,1014.2 L587.7,1014.6 L585.2,1015.0 L582.7,1015.4 L580.2,1015.7 L577.7,1016.1 L575.2,1016.5 L572.7,1016.9 L570.2,1017.3 L567.7,1017.6 L565.2,1018.0 L562.7,1018.4 L560.2,1018.7 L557.7,1019.1 L555.2,1019.4 L552.7,1019.8 L550.2,1020.1 L547.7,1020.4 L545.2,1020.8 L542.7,1021.1 L540.2,1021.4 L537.7,1021.8 L535.2,1022.1 L532.7,1022.4 L530.2,1022.7 L527.7,1023.0 L525.2,1023.3 L522.7,1023.6 L520.2,1023.9 L517.6,1024.2 L515.1,1024.5 L512.6,1024.8 L510.1,1025.1 L507.6,1025.4 L505.1,1025.7 L502.6,1025.9 L500.1,1026.2 L497.6,1026.5 L495.1,1026.8 L492.5,1027.0 L490.0,1027.3 L487.5,1027.5 L485.0,1027.8 L482.5,1028.0 L480.0,1028.3 L477.5,1028.5 L475.0,1028.8 L472.4,1029.0 L469.9,1029.2 L467.4,1029.4 L464.9,1029.7 L462.4,1029.9 L459.9,1030.1 L457.3,1030.3 L454.8,1030.5 L452.3,1030.7 L449.8,1030.9 L447.3,1031.1 L444.8,1031.3 L442.2,1031.5 L439.7,1031.7 L437.2,1031.9 L434.7,1032.1 L432.2,1032.3 L429.6,1032.5 L427.1,1032.6 L424.6,1032.8 L422.1,1033.0 L419.6,1033.1 L417.0,1033.3 L414.5,1033.5 L412.0,1033.6 L409.5,1033.8 L407.0,1033.9 L404.4,1034.1 L401.9,1034.2 L399.4,1034.3 L396.9,1034.5 L394.4,1034.6 L391.8,1034.7 L389.3,1034.9 L386.8,1035.0 L384.3,1035.1 L381.7,1035.2 L379.2,1035.3 L376.7,1035.5 L374.2,1035.6 L371.6,1035.7 L369.1,1035.8 L366.6,1035.9 L364.1,1036.0 L361.6,1036.0 L359.0,1036.1 L356.5,1036.2 L354.0,1036.3"/>
<path d="M406.30,1079.00 L321.34,1056.53"/>
<path d="M403.70,1099.50 L340.60,1099.50"/>
<path d="M436.30,1144.70 L322.86,1115.45"/>
<path d="M669.8,1254.0 L667.4,1253.3 L664.9,1252.7 L662.5,1252.0 L660.0,1251.3 L657.6,1250.7 L655.1,1250.1 L652.7,1249.4 L650.2,1248.8 L647.8,1248.2 L645.3,1247.6 L642.9,1247.0 L640.4,1246.4 L638.0,1245.8 L635.5,1245.2 L633.0,1244.6 L630.6,1244.0 L628.1,1243.5 L625.7,1242.9 L623.2,1242.4 L620.7,1241.8 L618.2,1241.3 L615.8,1240.7 L613.3,1240.2 L610.8,1239.7 L608.4,1239.2 L605.9,1238.7 L603.4,1238.2 L600.9,1237.7 L598.4,1237.2 L596.0,1236.7 L593.5,1236.2 L591.0,1235.8 L588.5,1235.3 L586.0,1234.8 L583.5,1234.4 L581.1,1233.9 L578.6,1233.5 L576.1,1233.1 L573.6,1232.6 L571.1,1232.2 L568.6,1231.8 L566.1,1231.4 L563.6,1231.0 L561.1,1230.6 L558.6,1230.2 L556.1,1229.8 L553.6,1229.4 L551.1,1229.0 L548.6,1228.6 L546.1,1228.3 L543.6,1227.9 L541.1,1227.5 L538.6,1227.2 L536.1,1226.8 L533.6,1226.5 L531.1,1226.1 L528.6,1225.8 L526.1,1225.5 L523.6,1225.2 L521.1,1224.8 L518.6,1224.5 L516.1,1224.2 L513.5,1223.9 L511.0,1223.6 L508.5,1223.3 L506.0,1223.0 L503.5,1222.7 L501.0,1222.5 L498.5,1222.2 L495.9,1221.9 L493.4,1221.6 L490.9,1221.4 L488.4,1221.1 L485.9,1220.9 L483.4,1220.6 L480.8,1220.4 L478.3,1220.1 L475.8,1219.9 L473.3,1219.7 L470.8,1219.4 L468.2,1219.2 L465.7,1219.0 L463.2,1218.8 L460.7,1218.5 L458.2,1218.3 L455.6,1218.1 L453.1,1217.9 L450.6,1217.7 L448.1,1217.5 L445.5,1217.3 L443.0,1217.2 L440.5,1217.0 L438.0,1216.8 L435.4,1216.6 L432.9,1216.5 L430.4,1216.3 L427.9,1216.1 L425.3,1216.0 L422.8,1215.8 L420.3,1215.6 L417.8,1215.5 L415.2,1215.3 L412.7,1215.2 L410.2,1215.1 L407.7,1214.9 L405.1,1214.8 L402.6,1214.7 L400.1,1214.5 L397.6,1214.4 L395.0,1214.3 L392.5,1214.2 L390.0,1214.0 L387.5,1213.9 L385.0,1213.8 L382.4,1213.7 L379.9,1213.6 L377.4,1213.5 L374.9,1213.4 L372.3,1213.3 L369.8,1213.2 L367.3,1213.1 L364.8,1213.0 L362.2,1212.9 L359.7,1212.8 L357.2,1212.8 L354.7,1212.7"/>
<path d="M406.30,1246.70 L321.36,1224.67"/>
<path d="M407.30,1325.80 L344.40,1325.80"/>
<path d="M406.30,1364.60 L323.33,1342.37"/>
<path d="M391.70,1384.60 L357.70,1384.60"/>
<path d="M708.3,1280.0 L707.3,1282.2 L706.2,1284.3 L705.2,1286.5 L704.1,1288.7 L703.1,1290.9 L702.0,1293.1 L700.9,1295.3 L699.8,1297.5 L698.7,1299.8 L697.5,1302.0 L696.4,1304.2 L695.2,1306.4 L694.1,1308.7 L692.9,1310.9 L691.7,1313.1 L690.5,1315.4 L689.3,1317.6 L688.1,1319.8 L686.8,1322.1 L685.6,1324.3 L684.3,1326.5 L683.0,1328.8 L681.7,1331.0 L680.4,1333.2 L679.1,1335.4 L677.8,1337.6 L676.4,1339.8 L675.0,1342.0 L673.7,1344.1 L672.3,1346.3 L670.9,1348.5 L669.4,1350.6 L668.0,1352.7 L666.5,1354.9 L665.1,1357.0 L663.6,1359.1 L662.1,1361.1 L660.6,1363.2 L659.0,1365.3 L657.5,1367.3 L655.9,1369.3 L654.3,1371.3 L652.7,1373.3 L651.1,1375.3 L649.5,1377.2 L647.8,1379.1 L646.1,1381.0 L644.5,1382.9 L642.8,1384.8 L641.0,1386.6 L639.3,1388.4 L637.5,1390.2 L635.8,1391.9 L634.0,1393.7 L632.2,1395.4 L630.3,1397.1 L628.5,1398.7 L626.6,1400.3 L624.7,1401.9 L622.8,1403.5 L620.9,1405.0 L618.9,1406.5 L617.0,1408.0 L615.0,1409.5 L613.0,1410.9 L610.9,1412.2 L608.9,1413.6 L606.8,1414.9 L604.7,1416.1 L602.6,1417.4 L600.5,1418.5 L598.3,1419.7 L596.2,1420.8 L594.0,1421.9 L591.8,1422.9 L589.5,1423.9 L587.3,1424.9 L585.0,1425.8 L582.7,1426.6 L580.4,1427.5 L578.0,1428.2 L575.6,1429.0 L573.3,1429.7 L570.9,1430.3 L568.4,1430.9 L566.0,1431.5 L563.5,1432.1 L561.1,1432.6 L558.6,1433.1 L556.1,1433.5 L553.6,1433.9 L551.0,1434.3 L548.5,1434.7 L546.0,1435.0 L543.4,1435.3 L540.9,1435.6 L538.3,1435.8 L535.7,1436.1 L533.2,1436.3 L530.6,1436.5 L528.0,1436.7 L525.4,1436.9 L522.9,1437.0 L520.3,1437.2 L517.7,1437.3 L515.1,1437.4 L512.6,1437.5 L510.0,1437.6 L507.4,1437.7 L504.9,1437.8 L502.3,1437.8 L499.8,1437.9 L497.2,1437.9 L494.6,1438.0 L492.1,1438.0 L489.5,1438.0 L487.0,1438.0 L484.5,1438.0 L481.9,1438.0 L479.4,1438.0 L476.9,1438.0 L474.3,1437.9 L471.8,1437.9 L469.3,1437.9 L466.7,1437.8 L464.2,1437.7 L461.7,1437.7 L459.2,1437.6 L456.7,1437.5 L454.2,1437.4 L451.7,1437.3 L449.2,1437.2 L446.7,1437.1 L444.2,1437.0 L441.7,1436.9 L439.2,1436.7 L436.7,1436.5 L434.2,1436.4 L431.7,1436.2 L429.2,1436.0 L426.8,1435.8 L424.3,1435.6 L421.8,1435.3 L419.3,1435.1 L416.8,1434.8 L414.4,1434.5 L411.9,1434.2 L409.4,1433.9 L406.9,1433.6 L404.5,1433.2 L402.0,1432.9 L399.5,1432.5 L397.1,1432.1 L394.6,1431.7 L392.1,1431.3 L389.7,1430.8 L387.2,1430.3 L384.7,1429.9 L382.3,1429.4 L379.8,1428.8 L377.4,1428.3 L374.9,1427.8 L372.5,1427.2 L370.0,1426.6 L367.6,1426.0 L365.1,1425.4 L362.7,1424.7 L360.3,1424.1 L357.8,1423.4 L355.4,1422.7 L353.0,1422.0 L350.6,1421.3 L348.2,1420.6 L345.8,1419.8 L343.4,1419.1 L341.0,1418.3 L338.6,1417.5 L336.2,1416.7 L333.8,1415.8 L331.4,1415.0 L329.0,1414.1 L326.7,1413.2 L324.3,1412.3 L322.0,1411.4 L319.6,1410.5 L317.3,1409.5 L315.0,1408.6 L312.6,1407.6 L310.3,1406.6 L308.0,1405.6 L305.7,1404.5 L303.4,1403.5 L301.1,1402.4"/>
<path d="M848.60,1534.00 C627.85,1511.57 576.52,1511.45 338.08,1497.41"/>
<path d="M413.00,1533.50 L337.70,1515.08"/>
<path d="M848.60,1556.70 C715.47,1581.43 674.52,1587.42 570.54,1603.49"/>
<path d="M646.50,1642.60 C616.58,1638.94 612.14,1637.81 570.55,1631.55"/>
<path d="M649.20,147.20 L570.10,147.20"/>
<path d="M703.0,167.2 L701.7,169.4 L700.5,171.6 L699.2,173.8 L698.0,176.0 L696.7,178.2 L695.5,180.4 L694.2,182.6 L692.9,184.8 L691.7,187.1 L690.4,189.3 L689.2,191.5 L687.9,193.7 L686.7,195.9 L685.4,198.1 L684.1,200.3 L682.9,202.5 L681.7,204.7 L680.4,206.9 L679.2,209.2 L677.9,211.4 L676.7,213.6 L675.5,215.8 L674.3,218.0 L673.0,220.3 L671.8,222.5 L670.6,224.7 L669.4,227.0 L668.2,229.2 L667.0,231.4 L665.8,233.7 L664.7,235.9 L663.5,238.2 L662.3,240.4 L661.2,242.7 L660.0,244.9 L658.9,247.2 L657.7,249.4 L656.6,251.7 L655.5,254.0 L654.4,256.2 L653.3,258.5 L652.2,260.8 L651.1,263.1 L650.1,265.4 L649.0,267.7 L648.0,270.0 L647.0,272.3 L645.9,274.6 L644.9,276.9 L643.9,279.2 L643.0,281.5 L642.0,283.8 L641.0,286.1 L640.1,288.5 L639.2,290.8 L638.2,293.2 L637.3,295.5 L636.5,297.9 L635.6,300.2 L634.7,302.6 L633.9,305.0 L633.1,307.3 L632.3,309.7 L631.5,312.1 L630.7,314.5 L629.9,316.9 L629.2,319.3 L628.5,321.7 L627.8,324.1 L627.1,326.6 L626.4,329.0 L625.8,331.5 L625.1,333.9 L624.5,336.4 L623.9,338.8 L623.4,341.3 L622.8,343.8 L622.3,346.2 L621.8,348.7 L621.3,351.2 L620.8,353.7 L620.4,356.3 L619.9,358.8 L619.5,361.3 L619.2,363.9 L618.8,366.4 L618.5,369.0 L618.1,371.5 L617.8,374.1 L617.5,376.7 L617.3,379.2 L617.0,381.8 L616.7,384.4 L616.5,387.0 L616.2,389.5 L615.9,392.1 L615.7,394.7 L615.4,397.2 L615.1,399.8 L614.8,402.3 L614.5,404.9 L614.2,407.4 L613.9,410.0 L613.5,412.5 L613.1,415.0 L612.7,417.5 L612.3,420.0 L611.9,422.4 L611.4,424.9 L610.9,427.3 L610.3,429.7 L609.7,432.2 L609.1,434.5 L608.4,436.9 L607.7,439.2 L606.9,441.6 L606.1,443.9 L605.3,446.1 L604.4,448.4 L603.4,450.6 L602.4,452.8 L601.3,455.0 L600.1,457.1 L598.9,459.2 L597.6,461.3 L596.3,463.3 L594.8,465.3 L593.3,467.3 L591.8,469.3 L590.1,471.2 L588.4,473.0 L586.6,474.8 L584.7,476.6 L582.8,478.3 L580.7,480.0 L578.6,481.7 L576.4,483.2 L574.1,484.8 L571.7,486.2 L569.3,487.7 L566.7,489.0"/>
<path d="M650.20,359.80 C614.48,365.39 604.27,366.08 573.03,369.15"/>
<path d="M705.7,371.1 L704.6,373.3 L703.5,375.5 L702.4,377.6 L701.3,379.8 L700.2,382.1 L699.0,384.3 L697.9,386.5 L696.8,388.7 L695.7,391.0 L694.6,393.2 L693.4,395.4 L692.3,397.7 L691.1,400.0 L690.0,402.2 L688.9,404.5 L687.7,406.7 L686.5,409.0 L685.4,411.3 L684.2,413.6 L683.0,415.8 L681.8,418.1 L680.7,420.4 L679.5,422.6 L678.3,424.9 L677.0,427.2 L675.8,429.5 L674.6,431.7 L673.4,434.0 L672.1,436.3 L670.9,438.5 L669.6,440.8 L668.3,443.0 L667.0,445.3 L665.8,447.5 L664.4,449.7 L663.1,452.0 L661.8,454.2 L660.5,456.4 L659.1,458.6 L657.8,460.8 L656.4,463.0 L655.0,465.1 L653.6,467.3 L652.2,469.5 L650.8,471.6 L649.4,473.7 L647.9,475.9 L646.5,478.0 L645.0,480.1 L643.5,482.2 L642.0,484.2 L640.5,486.3 L638.9,488.3 L637.4,490.4 L635.8,492.4 L634.2,494.4 L632.6,496.3 L631.0,498.3 L629.4,500.3 L627.7,502.2 L626.1,504.1 L624.4,506.0 L622.7,507.9 L621.0,509.7 L619.2,511.5 L617.5,513.4 L615.7,515.1 L613.9,516.9 L612.1,518.7 L610.3,520.4 L608.4,522.1 L606.5,523.8 L604.7,525.4 L602.7,527.0 L600.8,528.6 L598.8,530.2 L596.9,531.8 L594.9,533.3 L592.8,534.8 L590.8,536.3 L588.7,537.7 L586.6,539.1 L584.5,540.5 L582.4,541.9 L580.2,543.2 L578.0,544.5 L575.8,545.8 L573.6,547.0 L571.3,548.2 L569.0,549.4 L566.7,550.6 L564.4,551.7"/>
<path d="M646.50,685.80 L560.00,685.80"/>
<path d="M661.40,778.60 C610.59,764.87 595.07,761.48 554.45,752.10"/>
<path d="M701.4,977.3 L699.6,975.5 L697.9,973.7 L696.1,971.9 L694.3,970.1 L692.6,968.3 L690.8,966.5 L689.0,964.7 L687.3,962.9 L685.5,961.1 L683.7,959.3 L682.0,957.5 L680.2,955.6 L678.5,953.8 L676.7,952.0 L675.0,950.2 L673.2,948.4 L671.4,946.5 L669.7,944.7 L667.9,942.9 L666.2,941.1 L664.4,939.3 L662.7,937.4 L660.9,935.6 L659.1,933.8 L657.4,932.0 L655.6,930.1 L653.9,928.3 L652.1,926.5 L650.3,924.7 L648.6,922.8 L646.8,921.0 L645.1,919.2 L643.3,917.4 L641.5,915.6 L639.8,913.8 L638.0,911.9 L636.2,910.1 L634.4,908.3 L632.7,906.5 L630.9,904.7 L629.1,902.9 L627.3,901.1 L625.5,899.3 L623.7,897.5 L621.9,895.7 L620.1,894.0 L618.3,892.2 L616.5,890.4 L614.7,888.6 L612.9,886.9 L611.1,885.1 L609.3,883.3 L607.5,881.6 L605.6,879.8 L603.8,878.1 L602.0,876.3 L600.1,874.6 L598.3,872.8 L596.4,871.1 L594.6,869.4 L592.7,867.7 L590.9,866.0 L589.0,864.3 L587.1,862.6 L585.3,860.9 L583.4,859.2 L581.5,857.5 L579.6,855.8 L577.7,854.1 L575.8,852.5 L573.9,850.8 L572.0,849.2 L570.1,847.5 L568.2,845.9 L566.2,844.3 L564.3,842.6 L562.3,841.0 L560.4,839.4 L558.4,837.8 L556.5,836.2 L554.5,834.7 L552.5,833.1 L550.5,831.5 L548.5,830.0 L546.5,828.4 L544.5,826.9 L542.5,825.4 L540.5,823.9 L538.4,822.4 L536.4,820.9 L534.4,819.4 L532.3,817.9 L530.2,816.4 L528.2,815.0 L526.1,813.5 L524.0,812.1 L521.9,810.7 L519.8,809.3 L517.7,807.8"/>
<path d="M711.2,1253.6 L710.4,1251.2 L709.6,1248.8 L708.8,1246.4 L708.1,1244.0 L707.3,1241.6 L706.5,1239.2 L705.7,1236.8 L704.9,1234.4 L704.1,1232.0 L703.3,1229.6 L702.5,1227.2 L701.8,1224.7 L701.0,1222.3 L700.2,1219.9 L699.4,1217.5 L698.6,1215.1 L697.8,1212.7 L697.0,1210.3 L696.2,1207.9 L695.4,1205.5 L694.6,1203.1 L693.8,1200.7 L693.0,1198.3 L692.2,1195.9 L691.4,1193.5 L690.6,1191.1 L689.8,1188.7 L689.0,1186.3 L688.2,1183.9 L687.3,1181.5 L686.5,1179.1 L685.7,1176.7 L684.9,1174.4 L684.0,1172.0 L683.2,1169.6 L682.4,1167.2 L681.5,1164.8 L680.7,1162.4 L679.9,1160.0 L679.0,1157.6 L678.2,1155.3 L677.3,1152.9 L676.5,1150.5 L675.6,1148.1 L674.7,1145.8 L673.9,1143.4 L673.0,1141.0 L672.1,1138.6 L671.2,1136.3 L670.4,1133.9 L669.5,1131.5 L668.6,1129.2 L667.7,1126.8 L666.8,1124.5 L665.9,1122.1 L665.0,1119.8 L664.0,1117.4 L663.1,1115.1 L662.2,1112.7 L661.2,1110.4 L660.3,1108.0 L659.4,1105.7 L658.4,1103.4 L657.5,1101.0 L656.5,1098.7 L655.5,1096.4 L654.6,1094.0 L653.6,1091.7 L652.6,1089.4 L651.6,1087.1 L650.6,1084.8 L649.6,1082.5 L648.6,1080.1 L647.6,1077.8 L646.5,1075.5 L645.5,1073.2 L644.5,1070.9 L643.4,1068.7 L642.4,1066.4 L641.3,1064.1 L640.2,1061.8 L639.1,1059.5 L638.1,1057.2 L637.0,1055.0 L635.9,1052.7 L634.8,1050.4 L633.6,1048.2 L632.5,1045.9 L631.4,1043.7 L630.2,1041.4 L629.1,1039.2 L627.9,1036.9 L626.8,1034.7 L625.6,1032.5 L624.4,1030.2 L623.2,1028.0 L622.0,1025.8 L620.8,1023.6 L619.6,1021.4 L618.4,1019.2 L617.1,1017.0 L615.9,1014.8 L614.6,1012.6 L613.4,1010.4 L612.1,1008.2 L610.8,1006.0 L609.5,1003.8 L608.2,1001.7 L606.9,999.5 L605.5,997.3 L604.2,995.2 L602.9,993.0 L601.5,990.9 L600.1,988.7 L598.7,986.6 L597.4,984.5 L596.0,982.3 L594.5,980.2 L593.1,978.1 L591.7,976.0 L590.2,973.9 L588.8,971.8 L587.3,969.7 L585.8,967.6 L584.3,965.6 L582.8,963.5 L581.3,961.5 L579.7,959.4 L578.2,957.4 L576.6,955.4 L575.1,953.4 L573.5,951.4 L571.9,949.4 L570.2,947.5 L568.6,945.6 L566.9,943.6 L565.3,941.8 L563.6,939.9 L561.9,938.0 L560.2,936.2 L558.4,934.4 L556.7,932.6 L554.9,930.8 L553.1,929.1 L551.3,927.3 L549.5,925.6 L547.6,924.0 L545.8,922.3 L543.9,920.7 L542.0,919.2 L540.0,917.6 L538.0,916.2 L535.9,914.8 L533.8,913.5 L531.6,912.2 L529.4,911.1 L527.0,910.0 L524.6,909.1 L522.0,908.2"/>
<path d="M692.00,1003.00 C635.69,1035.54 621.71,1040.86 558.39,1071.92"/>
<path d="M630.50,1267.30 L596.60,1267.30"/>
<path d="M697.2,1280.0 L695.0,1281.3 L692.8,1282.6 L690.6,1284.0 L688.4,1285.3 L686.2,1286.6 L684.0,1288.0 L681.9,1289.4 L679.7,1290.8 L677.5,1292.2 L675.4,1293.5 L673.2,1295.0 L671.0,1296.4 L668.9,1297.8 L666.7,1299.2 L664.6,1300.6 L662.5,1302.1 L660.3,1303.5 L658.2,1304.9 L656.0,1306.4 L653.9,1307.8 L651.8,1309.3 L649.6,1310.7 L647.5,1312.1 L645.3,1313.6 L643.2,1315.0 L641.1,1316.4 L638.9,1317.9 L636.8,1319.3 L634.6,1320.7 L632.5,1322.1 L630.3,1323.5 L628.1,1325.0 L626.0,1326.3 L623.8,1327.7 L621.6,1329.1 L619.5,1330.5 L617.3,1331.9 L615.1,1333.2 L612.9,1334.5 L610.7,1335.9 L608.5,1337.2 L606.3,1338.5 L604.1,1339.8 L601.8,1341.1 L599.6,1342.3 L597.3,1343.6 L595.1,1344.8 L592.8,1346.0 L590.5,1347.2 L588.3,1348.4 L586.0,1349.5 L583.7,1350.7 L581.3,1351.8 L579.0,1352.9 L576.7,1353.9 L574.3,1355.0 L572.0,1356.0 L569.6,1357.0 L567.2,1358.0 L564.8,1359.0"/>
<path d="M848.60,1545.70 C757.07,1547.31 665.53,1548.89 574.00,1550.46"/>
<path d="M885.20,1564.70 L773.71,1625.68"/>
<path d="M915.9,1524.5 L915.7,1522.0 L915.6,1519.5 L915.4,1517.0 L915.2,1514.4 L915.1,1511.9 L914.9,1509.4 L914.8,1506.9 L914.6,1504.4 L914.4,1501.9 L914.3,1499.4 L914.1,1496.8 L913.9,1494.3 L913.7,1491.8 L913.6,1489.3 L913.4,1486.8 L913.2,1484.3 L913.1,1481.8 L912.9,1479.3 L912.7,1476.8 L912.5,1474.2 L912.4,1471.7 L912.2,1469.2 L912.0,1466.7 L911.8,1464.2 L911.7,1461.7 L911.5,1459.2 L911.3,1456.7 L911.1,1454.2 L910.9,1451.7 L910.8,1449.2 L910.6,1446.6 L910.4,1444.1 L910.2,1441.6 L910.0,1439.1 L909.8,1436.6 L909.7,1434.1 L909.5,1431.6 L909.3,1429.1 L909.1,1426.6 L908.9,1424.1 L908.7,1421.6 L908.5,1419.1 L908.3,1416.6 L908.2,1414.1 L908.0,1411.6 L907.8,1409.1 L907.6,1406.6 L907.4,1404.1 L907.2,1401.6 L907.0,1399.1 L906.8,1396.6 L906.6,1394.1 L906.4,1391.6 L906.2,1389.1 L906.0,1386.6 L905.8,1384.1 L905.6,1381.6 L905.4,1379.1 L905.2,1376.6 L905.0,1374.1 L904.8,1371.6 L904.6,1369.1 L904.4,1366.6 L904.2,1364.1 L903.9,1361.6 L903.7,1359.1 L903.5,1356.6 L903.3,1354.1 L903.1,1351.6 L902.9,1349.1 L902.7,1346.6 L902.5,1344.1 L902.2,1341.6 L902.0,1339.1 L901.8,1336.6 L901.6,1334.1 L901.4,1331.6 L901.1,1329.1 L900.9,1326.6 L900.7,1324.1 L900.5,1321.6 L900.3,1319.1 L900.0,1316.6 L899.8,1314.1 L899.6,1311.6 L899.3,1309.1 L899.1,1306.6 L898.9,1304.1 L898.6,1301.6 L898.4,1299.2 L898.2,1296.7 L897.9,1294.2 L897.7,1291.7 L897.5,1289.2 L897.2,1286.7 L897.0,1284.2 L896.8,1281.7 L896.5,1279.2 L896.3,1276.7 L896.0,1274.2 L895.8,1271.7 L895.5,1269.2 L895.3,1266.7 L895.0,1264.2 L894.8,1261.8 L894.5,1259.3 L894.3,1256.8 L894.0,1254.3 L893.8,1251.8 L893.5,1249.3 L893.3,1246.8 L893.0,1244.3 L892.8,1241.8 L892.5,1239.3 L892.3,1236.8 L892.0,1234.4 L891.7,1231.9 L891.5,1229.4 L891.2,1226.9 L890.9,1224.4 L890.7,1221.9 L890.4,1219.4 L890.1,1216.9 L889.9,1214.4 L889.6,1211.9 L889.3,1209.5 L889.0,1207.0 L888.8,1204.5 L888.5,1202.0 L888.2,1199.5 L887.9,1197.0 L887.7,1194.5 L887.4,1192.0 L887.1,1189.5 L886.8,1187.1 L886.5,1184.6 L886.2,1182.1 L885.9,1179.6 L885.7,1177.1 L885.4,1174.6 L885.1,1172.1 L884.8,1169.6 L884.5,1167.2 L884.2,1164.7 L883.9,1162.2 L883.6,1159.7 L883.3,1157.2 L883.0,1154.7 L882.7,1152.2 L882.4,1149.7 L882.1,1147.3 L881.8,1144.8 L881.5,1142.3 L881.2,1139.8 L880.9,1137.3 L880.6,1134.8 L880.2,1132.3 L879.9,1129.8 L879.6,1127.4 L879.3,1124.9 L879.0,1122.4 L878.7,1119.9 L878.3,1117.4 L878.0,1114.9 L877.7,1112.4 L877.4,1109.9 L877.0,1107.5 L876.7,1105.0 L876.4,1102.5 L876.1,1100.0 L875.7,1097.5 L875.4,1095.0 L875.0,1092.5 L874.7,1090.1 L874.4,1087.6 L874.0,1085.1 L873.7,1082.6 L873.4,1080.1 L873.0,1077.6 L872.7,1075.1 L872.3,1072.6 L872.0,1070.2 L871.6,1067.7 L871.3,1065.2 L870.9,1062.7 L870.6,1060.2 L870.2,1057.7 L869.8,1055.2 L869.5,1052.8 L869.1,1050.3 L868.8,1047.8 L868.4,1045.3 L868.0,1042.8 L867.7,1040.3 L867.3,1037.8 L866.9,1035.4 L866.6,1032.9 L866.2,1030.4 L865.8,1027.9 L865.4,1025.4 L865.1,1022.9 L864.7,1020.4 L864.3,1017.9 L863.9,1015.5 L863.5,1013.0 L863.2,1010.5 L862.8,1008.0 L862.4,1005.5 L862.0,1003.0 L861.6,1000.5 L861.2,998.1 L860.8,995.6 L860.4,993.1 L860.0,990.6 L859.6,988.1 L859.2,985.6 L858.8,983.1 L858.4,980.6 L858.0,978.2 L857.6,975.7 L857.2,973.2 L856.8,970.7 L856.4,968.2 L855.9,965.7 L855.5,963.2 L855.1,960.7 L854.7,958.2 L854.3,955.8 L853.8,953.3 L853.4,950.8 L853.0,948.3 L852.6,945.8 L852.1,943.3 L851.7,940.8 L851.3,938.3 L850.8,935.9 L850.4,933.4 L849.9,930.9 L849.5,928.4 L849.1,925.9 L848.6,923.4 L848.2,920.9 L847.7,918.4 L847.3,915.9 L846.8,913.4 L846.4,911.0 L845.9,908.5 L845.5,906.0 L845.0,903.5 L844.5,901.0 L844.1,898.5 L843.6,896.0 L843.1,893.5 L842.7,891.0 L842.2,888.5 L841.7,886.1 L841.2,883.6 L840.7,881.1 L840.3,878.6 L839.8,876.1 L839.3,873.6 L838.7,871.2 L838.2,868.7 L837.7,866.2 L837.2,863.8 L836.6,861.3 L836.1,858.8 L835.5,856.4 L834.9,853.9 L834.4,851.5 L833.8,849.0 L833.2,846.6 L832.6,844.2 L831.9,841.7 L831.3,839.3 L830.7,836.9 L830.0,834.5 L829.3,832.1 L828.6,829.7 L827.9,827.3 L827.2,824.9 L826.5,822.5 L825.7,820.2 L825.0,817.8 L824.2,815.5 L823.4,813.1 L822.6,810.8 L821.7,808.4 L820.9,806.1 L820.0,803.8 L819.1,801.5 L818.2,799.2 L817.3,797.0 L816.3,794.7 L815.3,792.4 L814.3,790.2 L813.3,787.9 L812.3,785.7 L811.2,783.5 L810.1,781.3 L809.0,779.1 L807.9,776.9 L806.8,774.8 L805.6,772.6 L804.4,770.5 L803.1,768.4 L801.9,766.3 L800.6,764.2 L799.3,762.1 L797.9,760.0 L796.6,757.9 L795.2,755.9 L793.7,753.9 L792.3,751.9 L790.8,749.9 L789.3,747.9 L787.7,745.9 L786.2,744.0 L784.6,742.1 L782.9,740.1 L781.3,738.3 L779.6,736.4 L777.8,734.5 L776.1,732.7 L774.3,730.9 L772.4,729.1 L770.6,727.3 L768.7,725.5 L766.8,723.8 L764.8,722.1 L762.8,720.4 L760.8,718.7 L758.7,717.1 L756.6,715.5"/>
</g>
<g fill="#191970" stroke="#191970" stroke-width="1">
<polygon points="63.80,926.70 68.57,912.82 58.57,912.98"/>
<polygon points="63.80,926.70 68.80,912.90 58.80,912.90"/>
<polygon points="64.50,926.70 69.81,913.02 59.81,912.79"/>
<polygon points="65.50,926.70 70.71,912.98 60.71,912.83"/>
<polygon points="68.00,926.70 73.37,913.04 63.37,912.77"/>
<polygon points="68.50,926.70 73.99,913.09 64.00,912.73"/>
<polygon points="73.50,927.00 82.41,915.34 72.87,912.34"/>
<polygon points="75.30,927.00 87.87,919.43 80.10,913.13"/>
<polygon points="94.90,926.50 109.57,926.01 105.85,916.73"/>
<polygon points="118.60,939.20 132.40,944.20 132.40,934.20"/>
<polygon points="111.00,951.80 123.08,960.14 125.62,950.47"/>
<polygon points="77.20,953.00 86.08,964.68 91.51,956.28"/>
<polygon points="69.10,953.00 74.90,966.48 82.19,959.64"/>
<polygon points="67.10,953.00 69.73,967.44 78.37,962.41"/>
<polygon points="65.00,953.00 63.78,967.63 73.44,965.01"/>
<polygon points="64.50,953.00 61.26,967.32 71.19,966.07"/>
<polygon points="64.50,953.00 60.44,967.10 70.42,966.43"/>
<polygon points="64.00,953.00 59.54,966.98 69.53,966.60"/>
<polygon points="64.00,953.00 59.36,966.93 69.36,966.66"/>
<polygon points="306.20,71.60 320.87,72.19 317.84,62.66"/>
<polygon points="319.00,136.60 333.67,136.99 330.52,127.50"/>
<polygon points="322.00,153.50 335.96,158.02 335.62,148.03"/>
<polygon points="329.60,221.00 343.63,225.30 343.13,215.32"/>
<polygon points="320.80,298.40 334.10,304.60 334.99,294.64"/>
<polygon points="320.80,360.70 335.37,362.50 333.14,352.75"/>
<polygon points="320.80,380.50 334.60,385.50 334.60,375.50"/>
<polygon points="320.80,426.80 335.44,427.88 332.73,418.25"/>
<polygon points="320.80,445.80 334.60,450.80 334.60,440.80"/>
<polygon points="264.40,697.00 276.53,688.74 268.42,682.88"/>
<polygon points="273.90,697.00 288.30,694.16 283.14,685.60"/>
<polygon points="287.30,697.00 301.92,695.72 297.71,686.65"/>
<polygon points="313.80,704.00 328.05,707.53 327.00,697.59"/>
<polygon points="313.80,718.50 327.03,724.85 328.03,714.91"/>
<polygon points="288.70,724.00 300.10,733.25 303.38,723.80"/>
<polygon points="273.20,724.00 281.02,736.42 287.16,728.53"/>
<polygon points="330.50,851.00 344.90,853.85 343.38,843.97"/>
<polygon points="336.50,942.40 349.86,948.47 350.65,938.50"/>
<polygon points="321.60,989.90 335.40,994.90 335.40,984.90"/>
<polygon points="340.20,1037.00 354.23,1041.30 353.73,1031.31"/>
<polygon points="308.00,1053.00 320.06,1061.36 322.62,1051.69"/>
<polygon points="326.80,1099.50 340.60,1104.50 340.60,1094.50"/>
<polygon points="309.50,1112.00 321.61,1120.29 324.11,1110.60"/>
<polygon points="340.90,1211.90 354.39,1217.67 354.96,1207.69"/>
<polygon points="308.00,1221.20 320.10,1229.50 322.61,1219.83"/>
<polygon points="330.60,1325.80 344.40,1330.80 344.40,1320.80"/>
<polygon points="310.00,1338.80 322.04,1347.20 324.62,1337.54"/>
<polygon points="343.90,1384.60 357.70,1389.60 357.70,1379.60"/>
<polygon points="288.30,1397.30 299.25,1407.07 302.97,1397.79"/>
<polygon points="324.30,1496.60 337.78,1502.40 338.37,1492.42"/>
<polygon points="324.30,1511.80 336.52,1519.94 338.89,1510.22"/>
<polygon points="556.90,1605.60 571.30,1608.43 569.77,1598.55"/>
<polygon points="556.90,1629.50 569.80,1636.50 571.29,1626.61"/>
<polygon points="556.30,147.20 570.10,152.20 570.10,142.20"/>
<polygon points="554.30,495.00 568.90,493.51 564.56,484.50"/>
<polygon points="559.30,370.50 573.52,374.13 572.54,364.17"/>
<polygon points="552.70,559.00 567.05,555.90 561.73,547.43"/>
<polygon points="546.20,685.80 560.00,690.80 560.00,680.80"/>
<polygon points="541.00,749.00 553.32,756.98 555.57,747.23"/>
<polygon points="506.00,800.50 515.02,812.08 520.34,803.62"/>
<polygon points="510.00,901.50 519.59,912.61 524.48,903.89"/>
<polygon points="546.00,1078.00 560.59,1076.41 556.19,1067.43"/>
<polygon points="582.80,1267.30 596.60,1272.30 596.60,1262.30"/>
<polygon points="552.20,1364.60 566.84,1363.54 562.76,1354.41"/>
<polygon points="560.20,1550.70 574.08,1555.46 573.91,1545.46"/>
<polygon points="761.60,1632.30 776.11,1630.06 771.31,1621.29"/>
<polygon points="746.60,706.00 753.21,719.10 760.07,711.82"/>
</g>
<g stroke-width="1.3">
<rect x="5.0" y="926.7" width="113.7" height="25.1" fill="#bfbfbf" stroke="#000"/>
<text x="61.9" y="942.9">ColourRGBAf::g</text>
<rect x="187.6" y="6.0" width="135.1" height="40.0" fill="#fff" stroke="#000"/>
<text x="255.1" y="22.1">BoundingBoxFilter::</text>
<text x="255.1" y="36.5">numBytesForCache</text>
<rect x="188.3" y="71.6" width="133.7" height="39.7" fill="#fff" stroke="#000"/>
<text x="255.2" y="87.5">BoundingBoxFilter::</text>
<text x="255.2" y="101.9">writeState</text>
<rect x="188.3" y="136.6" width="133.7" height="39.8" fill="#fff" stroke="#000"/>
<text x="255.2" y="152.6">BoundingBoxFilter::</text>
<text x="255.2" y="167.0">refresh</text>
<rect x="181.1" y="212.0" width="148.5" height="25.5" fill="#fff" stroke="#000"/>
<text x="255.4" y="228.3">AnnotateFilter::refresh</text>
<rect x="189.4" y="274.2" width="131.4" height="39.8" fill="#fff" stroke="#000"/>
<text x="255.1" y="290.2">SpectrumPlotFilter</text>
<text x="255.1" y="304.6">::writeState</text>
<rect x="189.4" y="360.6" width="131.4" height="39.9" fill="#fff" stroke="#000"/>
<text x="255.1" y="376.7">SpectrumPlotFilter</text>
<text x="255.1" y="391.1">::setProperty</text>
<rect x="189.4" y="426.0" width="131.4" height="40.0" fill="#fff" stroke="#000"/>
<text x="255.1" y="442.1">SpectrumPlotFilter</text>
<text x="255.1" y="456.5">::refresh</text>
<rect x="196.5" y="698.5" width="117.5" height="25.3" fill="#fff" stroke="#000"/>
<text x="255.2" y="714.8">parseXMLColour</text>
<rect x="179.5" y="850.7" width="151.0" height="25.3" fill="#fff" stroke="#000"/>
<text x="255.0" y="867.0">ProfileFilter::writeState</text>
<rect x="173.5" y="926.8" width="163.0" height="24.9" fill="#fff" stroke="#000"/>
<text x="255.0" y="942.9">VoxeliseFilter::writeState</text>
<rect x="188.8" y="977.3" width="132.8" height="25.2" fill="#fff" stroke="#000"/>
<text x="255.2" y="993.5">ProfileFilter::refresh</text>
<rect x="170.2" y="1027.8" width="170.0" height="25.2" fill="#fff" stroke="#000"/>
<text x="255.2" y="1044.0">VoxeliseFilter::setProperty</text>
<rect x="183.4" y="1086.3" width="143.4" height="25.7" fill="#fff" stroke="#000"/>
<text x="255.1" y="1102.8">VoxeliseFilter::refresh</text>
<rect x="169.5" y="1196.0" width="171.4" height="25.2" fill="#fff" stroke="#000"/>
<text x="255.2" y="1212.2">DataLoadFilter::writeState</text>
<rect x="179.5" y="1313.2" width="151.1" height="25.6" fill="#fff" stroke="#000"/>
<text x="255.1" y="1329.6">DataLoadFilter::refresh</text>
<rect x="166.2" y="1372.0" width="177.7" height="25.3" fill="#fff" stroke="#000"/>
<text x="255.0" y="1388.2">DataLoadFilter::setProperty</text>
<rect x="185.4" y="1473.8" width="139.1" height="40.2" fill="#fff" stroke="#000"/>
<text x="254.9" y="1490.0">SpatialAnalysisFilter</text>
<text x="254.9" y="1504.4">::setProperty</text>
<rect x="420.5" y="61.6" width="133.4" height="40.2" fill="#fff" stroke="#000"/>
<text x="487.2" y="77.8">BoundingBoxFilter::</text>
<text x="487.2" y="92.2">getType</text>
<rect x="418.4" y="127.0" width="137.9" height="40.2" fill="#fff" stroke="#000"/>
<text x="487.3" y="143.2">BoundingBoxFilter::</text>
<text x="487.3" y="157.6">getRefreshUseMask</text>
<rect x="395.5" y="192.1" width="183.1" height="40.5" fill="#fff" stroke="#f00"/>
<text x="487.1" y="208.4">AnnotateFilter::setPropFrom</text>
<text x="487.1" y="222.8">Binding</text>
<rect x="415.2" y="360.6" width="144.1" height="39.9" fill="#fff" stroke="#f00"/>
<text x="487.2" y="376.7">SpectrumPlotFilter</text>
<text x="487.2" y="391.1">::needsUnrangedData</text>
<rect x="421.7" y="426.0" width="131.0" height="40.0" fill="#fff" stroke="#000"/>
<text x="487.2" y="442.1">SpectrumPlotFilter</text>
<text x="487.2" y="456.5">::getType</text>
<rect x="420.4" y="491.5" width="133.9" height="39.5" fill="#fff" stroke="#000"/>
<text x="487.3" y="507.4">BoundingBoxFilter::</text>
<text x="487.3" y="521.8">readState</text>
<rect x="421.7" y="556.7" width="131.0" height="39.8" fill="#fff" stroke="#000"/>
<text x="487.2" y="572.7">SpectrumPlotFilter</text>
<text x="487.2" y="587.1">::readState</text>
<rect x="428.2" y="673.3" width="117.8" height="25.1" fill="#fff" stroke="#f00"/>
<text x="487.1" y="689.4">readScalarsXML</text>
<rect x="412.3" y="724.0" width="149.9" height="25.0" fill="#fff" stroke="#000"/>
<text x="487.2" y="740.1">ProfileFilter::readState</text>
<rect x="407.0" y="774.6" width="160.5" height="25.2" fill="#fff" stroke="#000"/>
<text x="487.2" y="790.8">VoxeliseFilter::readState</text>
<rect x="403.0" y="876.0" width="168.5" height="25.2" fill="#fff" stroke="#000"/>
<text x="487.2" y="892.2">DataLoadFilter::readState</text>
<rect x="417.6" y="977.3" width="139.3" height="25.2" fill="#fff" stroke="#000"/>
<text x="487.2" y="993.5">ProfileFilter::getType</text>
<rect x="403.7" y="1079.0" width="167.2" height="40.2" fill="#fff" stroke="#000"/>
<text x="487.3" y="1095.2">VoxeliseFilter::getRefresh</text>
<text x="487.3" y="1109.6">UseMask</text>
<rect x="411.7" y="1144.7" width="150.8" height="25.6" fill="#fff" stroke="#000"/>
<text x="487.1" y="1161.1">VoxeliseFilter::getType</text>
<rect x="391.7" y="1246.7" width="191.1" height="40.2" fill="#fff" stroke="#000"/>
<text x="487.2" y="1262.9">DataLoadFilter::writePackage</text>
<text x="487.2" y="1277.3">State</text>
<rect x="407.3" y="1313.1" width="159.2" height="25.6" fill="#fff" stroke="#000"/>
<text x="486.9" y="1329.5">DataLoadFilter::getType</text>
<rect x="391.7" y="1364.6" width="191.1" height="39.9" fill="#fff" stroke="#000"/>
<text x="487.2" y="1380.6">DataLoadFilter::monitorNeeds</text>
<text x="487.2" y="1395.0">Refresh</text>
<rect x="414.3" y="1532.6" width="145.9" height="39.8" fill="#fff" stroke="#000"/>
<text x="487.2" y="1548.6">SpatialAnalysisFilter</text>
<text x="487.2" y="1563.0">::setPropFromBinding</text>
<rect x="417.6" y="1597.6" width="139.3" height="40.3" fill="#fff" stroke="#000"/>
<text x="487.2" y="1613.8">SpatialAnalysisFilter</text>
<text x="487.2" y="1628.2">::writeState</text>
<rect x="649.2" y="127.0" width="133.6" height="40.2" fill="#fff" stroke="#000"/>
<text x="716.0" y="143.2">BoundingBoxFilter::</text>
<text x="716.0" y="157.6">typeString</text>
<rect x="650.2" y="330.9" width="131.3" height="40.2" fill="#fff" stroke="#000"/>
<text x="715.9" y="347.1">SpectrumPlotFilter</text>
<text x="715.9" y="361.5">::typeString</text>
<rect x="646.5" y="665.6" width="138.9" height="40.2" fill="#fff" stroke="#000"/>
<text x="716.0" y="681.8">SpatialAnalysisFilter</text>
<text x="716.0" y="696.2">::readState</text>
<rect x="640.2" y="778.6" width="150.8" height="25.2" fill="#fff" stroke="#000"/>
<text x="715.6" y="794.8">ProfileFilter::typeString</text>
<rect x="634.6" y="977.3" width="162.8" height="25.2" fill="#fff" stroke="#000"/>
<text x="716.0" y="993.5">VoxeliseFilter::typeString</text>
<rect x="630.5" y="1254.3" width="170.8" height="25.9" fill="#fff" stroke="#000"/>
<text x="715.9" y="1270.8">DataLoadFilter::typeString</text>
<rect x="646.5" y="1633.4" width="138.9" height="40.2" fill="#fff" stroke="#000"/>
<text x="716.0" y="1649.6">SpatialAnalysisFilter</text>
<text x="716.0" y="1664.0">::writePackageState</text>
<rect x="848.6" y="1524.6" width="139.6" height="40.0" fill="#fff" stroke="#000"/>
<text x="918.4" y="1540.7">SpatialAnalysisFilter</text>
<text x="918.4" y="1555.1">::typeString</text>
</g>
</svg>
</body></html>
